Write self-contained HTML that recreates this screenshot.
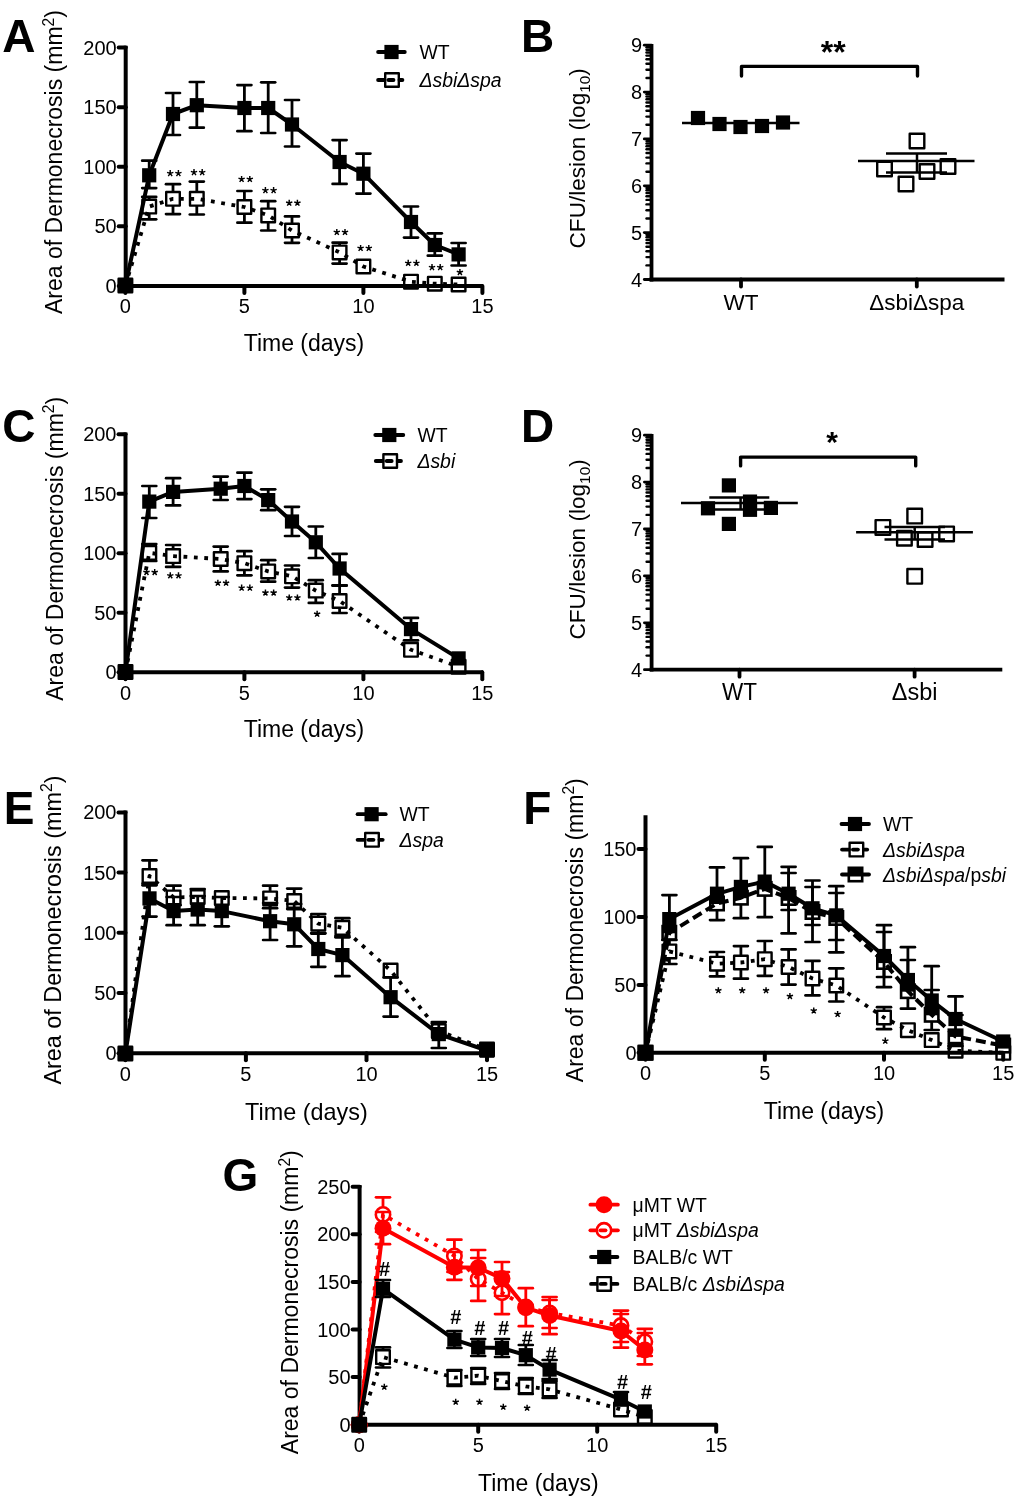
<!DOCTYPE html><html><head><meta charset="utf-8"><style>html,body{margin:0;padding:0;background:#fff;overflow:hidden}svg{display:block;will-change:transform}</style></head><body><svg width="1024" height="1509" viewBox="0 0 1024 1509" font-family='"Liberation Sans", sans-serif'>
<rect width="1024" height="1509" fill="#fff"/>
<text x="2.2" y="52.0" font-size="46" text-anchor="start" font-weight="bold" >A</text>
<text transform="translate(62.2,162.0) rotate(-90)" x="0" y="0" font-size="23" text-anchor="middle">Area of Dermonecrosis (mm<tspan font-size="15.6" dy="-8.3">2</tspan><tspan dy="8.3">)</tspan></text>
<line x1="125.7" y1="45.8" x2="125.7" y2="287.9" stroke="#000" stroke-width="4"/>
<line x1="123.7" y1="285.9" x2="483.0" y2="285.9" stroke="#000" stroke-width="4"/>
<line x1="118.7" y1="285.9" x2="125.7" y2="285.9" stroke="#000" stroke-width="4" stroke-linecap="round"/>
<text x="116.7" y="292.9" font-size="20" text-anchor="end" >0</text>
<line x1="118.7" y1="226.3" x2="125.7" y2="226.3" stroke="#000" stroke-width="4" stroke-linecap="round"/>
<text x="116.7" y="233.3" font-size="20" text-anchor="end" >50</text>
<line x1="118.7" y1="166.7" x2="125.7" y2="166.7" stroke="#000" stroke-width="4" stroke-linecap="round"/>
<text x="116.7" y="173.7" font-size="20" text-anchor="end" >100</text>
<line x1="118.7" y1="107.2" x2="125.7" y2="107.2" stroke="#000" stroke-width="4" stroke-linecap="round"/>
<text x="116.7" y="114.2" font-size="20" text-anchor="end" >150</text>
<line x1="118.7" y1="47.6" x2="125.7" y2="47.6" stroke="#000" stroke-width="4" stroke-linecap="round"/>
<text x="116.7" y="54.6" font-size="20" text-anchor="end" >200</text>
<line x1="125.4" y1="285.9" x2="125.4" y2="292.9" stroke="#000" stroke-width="4" stroke-linecap="round"/>
<text x="125.4" y="313.4" font-size="20" text-anchor="middle" >0</text>
<line x1="244.4" y1="285.9" x2="244.4" y2="292.9" stroke="#000" stroke-width="4" stroke-linecap="round"/>
<text x="244.4" y="313.4" font-size="20" text-anchor="middle" >5</text>
<line x1="363.4" y1="285.9" x2="363.4" y2="292.9" stroke="#000" stroke-width="4" stroke-linecap="round"/>
<text x="363.4" y="313.4" font-size="20" text-anchor="middle" >10</text>
<line x1="482.4" y1="285.9" x2="482.4" y2="292.9" stroke="#000" stroke-width="4" stroke-linecap="round"/>
<text x="482.4" y="313.4" font-size="20" text-anchor="middle" >15</text>
<text x="304.0" y="351.0" font-size="23" text-anchor="middle" >Time (days)</text>
<line x1="149.2" y1="196.9" x2="149.2" y2="200.1" stroke="#000" stroke-width="2.8"/>
<line x1="142.2" y1="196.9" x2="156.2" y2="196.9" stroke="#000" stroke-width="2.7" stroke-linecap="round"/>
<line x1="149.2" y1="213.1" x2="149.2" y2="219.3" stroke="#000" stroke-width="2.8"/>
<line x1="142.2" y1="219.3" x2="156.2" y2="219.3" stroke="#000" stroke-width="2.7" stroke-linecap="round"/>
<line x1="173.0" y1="184.2" x2="173.0" y2="192.3" stroke="#000" stroke-width="2.8"/>
<line x1="166.0" y1="184.2" x2="180.0" y2="184.2" stroke="#000" stroke-width="2.7" stroke-linecap="round"/>
<line x1="173.0" y1="205.3" x2="173.0" y2="214.1" stroke="#000" stroke-width="2.8"/>
<line x1="166.0" y1="214.1" x2="180.0" y2="214.1" stroke="#000" stroke-width="2.7" stroke-linecap="round"/>
<line x1="196.8" y1="181.6" x2="196.8" y2="192.3" stroke="#000" stroke-width="2.8"/>
<line x1="189.8" y1="181.6" x2="203.8" y2="181.6" stroke="#000" stroke-width="2.7" stroke-linecap="round"/>
<line x1="196.8" y1="205.3" x2="196.8" y2="214.5" stroke="#000" stroke-width="2.8"/>
<line x1="189.8" y1="214.5" x2="203.8" y2="214.5" stroke="#000" stroke-width="2.7" stroke-linecap="round"/>
<line x1="244.4" y1="191.0" x2="244.4" y2="200.5" stroke="#000" stroke-width="2.8"/>
<line x1="237.4" y1="191.0" x2="251.4" y2="191.0" stroke="#000" stroke-width="2.7" stroke-linecap="round"/>
<line x1="244.4" y1="213.5" x2="244.4" y2="222.7" stroke="#000" stroke-width="2.8"/>
<line x1="237.4" y1="222.7" x2="251.4" y2="222.7" stroke="#000" stroke-width="2.7" stroke-linecap="round"/>
<line x1="268.2" y1="201.2" x2="268.2" y2="208.9" stroke="#000" stroke-width="2.8"/>
<line x1="261.2" y1="201.2" x2="275.2" y2="201.2" stroke="#000" stroke-width="2.7" stroke-linecap="round"/>
<line x1="268.2" y1="221.9" x2="268.2" y2="230.5" stroke="#000" stroke-width="2.8"/>
<line x1="261.2" y1="230.5" x2="275.2" y2="230.5" stroke="#000" stroke-width="2.7" stroke-linecap="round"/>
<line x1="292.0" y1="216.4" x2="292.0" y2="224.0" stroke="#000" stroke-width="2.8"/>
<line x1="285.0" y1="216.4" x2="299.0" y2="216.4" stroke="#000" stroke-width="2.7" stroke-linecap="round"/>
<line x1="292.0" y1="237.0" x2="292.0" y2="242.8" stroke="#000" stroke-width="2.8"/>
<line x1="285.0" y1="242.8" x2="299.0" y2="242.8" stroke="#000" stroke-width="2.7" stroke-linecap="round"/>
<line x1="339.6" y1="242.7" x2="339.6" y2="245.9" stroke="#000" stroke-width="2.8"/>
<line x1="332.6" y1="242.7" x2="346.6" y2="242.7" stroke="#000" stroke-width="2.7" stroke-linecap="round"/>
<line x1="339.6" y1="258.9" x2="339.6" y2="263.6" stroke="#000" stroke-width="2.8"/>
<line x1="332.6" y1="263.6" x2="346.6" y2="263.6" stroke="#000" stroke-width="2.7" stroke-linecap="round"/>
<polyline points="125.4,285.5 149.2,206.6 173.0,198.8 196.8,198.8 244.4,207.0 268.2,215.4 292.0,230.5 339.6,252.4 363.4,266.5 411.0,281.7 434.8,283.7 458.6,284.5" fill="none" stroke="#000" stroke-width="3.8" stroke-linejoin="round" stroke-linecap="butt" stroke-dasharray="3.8 6.6"/>
<rect x="118.6" y="278.7" width="13.6" height="13.6" fill="none" stroke="#000" stroke-width="2.4" stroke-linejoin="round"/>
<rect x="142.4" y="199.8" width="13.6" height="13.6" fill="none" stroke="#000" stroke-width="2.4" stroke-linejoin="round"/>
<rect x="166.2" y="192.0" width="13.6" height="13.6" fill="none" stroke="#000" stroke-width="2.4" stroke-linejoin="round"/>
<rect x="190.0" y="192.0" width="13.6" height="13.6" fill="none" stroke="#000" stroke-width="2.4" stroke-linejoin="round"/>
<rect x="237.6" y="200.2" width="13.6" height="13.6" fill="none" stroke="#000" stroke-width="2.4" stroke-linejoin="round"/>
<rect x="261.4" y="208.6" width="13.6" height="13.6" fill="none" stroke="#000" stroke-width="2.4" stroke-linejoin="round"/>
<rect x="285.2" y="223.7" width="13.6" height="13.6" fill="none" stroke="#000" stroke-width="2.4" stroke-linejoin="round"/>
<rect x="332.8" y="245.6" width="13.6" height="13.6" fill="none" stroke="#000" stroke-width="2.4" stroke-linejoin="round"/>
<rect x="356.6" y="259.7" width="13.6" height="13.6" fill="none" stroke="#000" stroke-width="2.4" stroke-linejoin="round"/>
<rect x="404.2" y="274.9" width="13.6" height="13.6" fill="none" stroke="#000" stroke-width="2.4" stroke-linejoin="round"/>
<rect x="428.0" y="276.9" width="13.6" height="13.6" fill="none" stroke="#000" stroke-width="2.4" stroke-linejoin="round"/>
<rect x="451.8" y="277.7" width="13.6" height="13.6" fill="none" stroke="#000" stroke-width="2.4" stroke-linejoin="round"/>
<line x1="149.2" y1="160.7" x2="149.2" y2="168.8" stroke="#000" stroke-width="2.8"/>
<line x1="142.2" y1="160.7" x2="156.2" y2="160.7" stroke="#000" stroke-width="2.7" stroke-linecap="round"/>
<line x1="149.2" y1="181.8" x2="149.2" y2="188.1" stroke="#000" stroke-width="2.8"/>
<line x1="142.2" y1="188.1" x2="156.2" y2="188.1" stroke="#000" stroke-width="2.7" stroke-linecap="round"/>
<line x1="173.0" y1="93.0" x2="173.0" y2="107.5" stroke="#000" stroke-width="2.8"/>
<line x1="166.0" y1="93.0" x2="180.0" y2="93.0" stroke="#000" stroke-width="2.7" stroke-linecap="round"/>
<line x1="173.0" y1="120.5" x2="173.0" y2="135.0" stroke="#000" stroke-width="2.8"/>
<line x1="166.0" y1="135.0" x2="180.0" y2="135.0" stroke="#000" stroke-width="2.7" stroke-linecap="round"/>
<line x1="196.8" y1="82.0" x2="196.8" y2="98.7" stroke="#000" stroke-width="2.8"/>
<line x1="189.8" y1="82.0" x2="203.8" y2="82.0" stroke="#000" stroke-width="2.7" stroke-linecap="round"/>
<line x1="196.8" y1="111.7" x2="196.8" y2="127.7" stroke="#000" stroke-width="2.8"/>
<line x1="189.8" y1="127.7" x2="203.8" y2="127.7" stroke="#000" stroke-width="2.7" stroke-linecap="round"/>
<line x1="244.4" y1="85.1" x2="244.4" y2="101.5" stroke="#000" stroke-width="2.8"/>
<line x1="237.4" y1="85.1" x2="251.4" y2="85.1" stroke="#000" stroke-width="2.7" stroke-linecap="round"/>
<line x1="244.4" y1="114.5" x2="244.4" y2="131.2" stroke="#000" stroke-width="2.8"/>
<line x1="237.4" y1="131.2" x2="251.4" y2="131.2" stroke="#000" stroke-width="2.7" stroke-linecap="round"/>
<line x1="268.2" y1="82.3" x2="268.2" y2="101.5" stroke="#000" stroke-width="2.8"/>
<line x1="261.2" y1="82.3" x2="275.2" y2="82.3" stroke="#000" stroke-width="2.7" stroke-linecap="round"/>
<line x1="268.2" y1="114.5" x2="268.2" y2="133.0" stroke="#000" stroke-width="2.8"/>
<line x1="261.2" y1="133.0" x2="275.2" y2="133.0" stroke="#000" stroke-width="2.7" stroke-linecap="round"/>
<line x1="292.0" y1="100.0" x2="292.0" y2="118.0" stroke="#000" stroke-width="2.8"/>
<line x1="285.0" y1="100.0" x2="299.0" y2="100.0" stroke="#000" stroke-width="2.7" stroke-linecap="round"/>
<line x1="292.0" y1="131.0" x2="292.0" y2="146.5" stroke="#000" stroke-width="2.8"/>
<line x1="285.0" y1="146.5" x2="299.0" y2="146.5" stroke="#000" stroke-width="2.7" stroke-linecap="round"/>
<line x1="339.6" y1="140.1" x2="339.6" y2="155.5" stroke="#000" stroke-width="2.8"/>
<line x1="332.6" y1="140.1" x2="346.6" y2="140.1" stroke="#000" stroke-width="2.7" stroke-linecap="round"/>
<line x1="339.6" y1="168.5" x2="339.6" y2="183.9" stroke="#000" stroke-width="2.8"/>
<line x1="332.6" y1="183.9" x2="346.6" y2="183.9" stroke="#000" stroke-width="2.7" stroke-linecap="round"/>
<line x1="363.4" y1="153.6" x2="363.4" y2="167.2" stroke="#000" stroke-width="2.8"/>
<line x1="356.4" y1="153.6" x2="370.4" y2="153.6" stroke="#000" stroke-width="2.7" stroke-linecap="round"/>
<line x1="363.4" y1="180.2" x2="363.4" y2="193.6" stroke="#000" stroke-width="2.8"/>
<line x1="356.4" y1="193.6" x2="370.4" y2="193.6" stroke="#000" stroke-width="2.7" stroke-linecap="round"/>
<line x1="411.0" y1="206.5" x2="411.0" y2="215.5" stroke="#000" stroke-width="2.8"/>
<line x1="404.0" y1="206.5" x2="418.0" y2="206.5" stroke="#000" stroke-width="2.7" stroke-linecap="round"/>
<line x1="411.0" y1="228.5" x2="411.0" y2="237.6" stroke="#000" stroke-width="2.8"/>
<line x1="404.0" y1="237.6" x2="418.0" y2="237.6" stroke="#000" stroke-width="2.7" stroke-linecap="round"/>
<line x1="434.8" y1="233.3" x2="434.8" y2="238.5" stroke="#000" stroke-width="2.8"/>
<line x1="427.8" y1="233.3" x2="441.8" y2="233.3" stroke="#000" stroke-width="2.7" stroke-linecap="round"/>
<line x1="434.8" y1="251.5" x2="434.8" y2="255.7" stroke="#000" stroke-width="2.8"/>
<line x1="427.8" y1="255.7" x2="441.8" y2="255.7" stroke="#000" stroke-width="2.7" stroke-linecap="round"/>
<line x1="458.6" y1="243.0" x2="458.6" y2="247.9" stroke="#000" stroke-width="2.8"/>
<line x1="451.6" y1="243.0" x2="465.6" y2="243.0" stroke="#000" stroke-width="2.7" stroke-linecap="round"/>
<line x1="458.6" y1="260.9" x2="458.6" y2="265.5" stroke="#000" stroke-width="2.8"/>
<line x1="451.6" y1="265.5" x2="465.6" y2="265.5" stroke="#000" stroke-width="2.7" stroke-linecap="round"/>
<polyline points="125.4,285.5 149.2,175.3 173.0,114.0 196.8,105.2 244.4,108.0 268.2,108.0 292.0,124.5 339.6,162.0 363.4,173.7 411.0,222.0 434.8,245.0 458.6,254.4" fill="none" stroke="#000" stroke-width="4" stroke-linejoin="round" stroke-linecap="butt"/>
<rect x="118.3" y="278.4" width="14.2" height="14.2" fill="#000"/>
<rect x="142.1" y="168.2" width="14.2" height="14.2" fill="#000"/>
<rect x="165.9" y="106.9" width="14.2" height="14.2" fill="#000"/>
<rect x="189.7" y="98.1" width="14.2" height="14.2" fill="#000"/>
<rect x="237.3" y="100.9" width="14.2" height="14.2" fill="#000"/>
<rect x="261.1" y="100.9" width="14.2" height="14.2" fill="#000"/>
<rect x="284.9" y="117.4" width="14.2" height="14.2" fill="#000"/>
<rect x="332.5" y="154.9" width="14.2" height="14.2" fill="#000"/>
<rect x="356.3" y="166.6" width="14.2" height="14.2" fill="#000"/>
<rect x="403.9" y="214.9" width="14.2" height="14.2" fill="#000"/>
<rect x="427.7" y="237.9" width="14.2" height="14.2" fill="#000"/>
<rect x="451.5" y="247.3" width="14.2" height="14.2" fill="#000"/>
<path d="M170.20,173.40L170.20,170.10M170.20,173.40L173.34,172.38M170.20,173.40L172.14,176.07M170.20,173.40L168.26,176.07M170.20,173.40L167.06,172.38" stroke="#000" stroke-width="1.45" stroke-linecap="butt" fill="none"/>
<path d="M178.40,173.40L178.40,170.10M178.40,173.40L181.54,172.38M178.40,173.40L180.34,176.07M178.40,173.40L176.46,176.07M178.40,173.40L175.26,172.38" stroke="#000" stroke-width="1.45" stroke-linecap="butt" fill="none"/>
<path d="M194.00,172.40L194.00,169.10M194.00,172.40L197.14,171.38M194.00,172.40L195.94,175.07M194.00,172.40L192.06,175.07M194.00,172.40L190.86,171.38" stroke="#000" stroke-width="1.45" stroke-linecap="butt" fill="none"/>
<path d="M202.20,172.40L202.20,169.10M202.20,172.40L205.34,171.38M202.20,172.40L204.14,175.07M202.20,172.40L200.26,175.07M202.20,172.40L199.06,171.38" stroke="#000" stroke-width="1.45" stroke-linecap="butt" fill="none"/>
<path d="M241.60,179.20L241.60,175.90M241.60,179.20L244.74,178.18M241.60,179.20L243.54,181.87M241.60,179.20L239.66,181.87M241.60,179.20L238.46,178.18" stroke="#000" stroke-width="1.45" stroke-linecap="butt" fill="none"/>
<path d="M249.80,179.20L249.80,175.90M249.80,179.20L252.94,178.18M249.80,179.20L251.74,181.87M249.80,179.20L247.86,181.87M249.80,179.20L246.66,178.18" stroke="#000" stroke-width="1.45" stroke-linecap="butt" fill="none"/>
<path d="M265.40,190.40L265.40,187.10M265.40,190.40L268.54,189.38M265.40,190.40L267.34,193.07M265.40,190.40L263.46,193.07M265.40,190.40L262.26,189.38" stroke="#000" stroke-width="1.45" stroke-linecap="butt" fill="none"/>
<path d="M273.60,190.40L273.60,187.10M273.60,190.40L276.74,189.38M273.60,190.40L275.54,193.07M273.60,190.40L271.66,193.07M273.60,190.40L270.46,189.38" stroke="#000" stroke-width="1.45" stroke-linecap="butt" fill="none"/>
<path d="M289.20,203.00L289.20,199.70M289.20,203.00L292.34,201.98M289.20,203.00L291.14,205.67M289.20,203.00L287.26,205.67M289.20,203.00L286.06,201.98" stroke="#000" stroke-width="1.45" stroke-linecap="butt" fill="none"/>
<path d="M297.40,203.00L297.40,199.70M297.40,203.00L300.54,201.98M297.40,203.00L299.34,205.67M297.40,203.00L295.46,205.67M297.40,203.00L294.26,201.98" stroke="#000" stroke-width="1.45" stroke-linecap="butt" fill="none"/>
<path d="M336.80,232.20L336.80,228.90M336.80,232.20L339.94,231.18M336.80,232.20L338.74,234.87M336.80,232.20L334.86,234.87M336.80,232.20L333.66,231.18" stroke="#000" stroke-width="1.45" stroke-linecap="butt" fill="none"/>
<path d="M345.00,232.20L345.00,228.90M345.00,232.20L348.14,231.18M345.00,232.20L346.94,234.87M345.00,232.20L343.06,234.87M345.00,232.20L341.86,231.18" stroke="#000" stroke-width="1.45" stroke-linecap="butt" fill="none"/>
<path d="M360.60,248.20L360.60,244.90M360.60,248.20L363.74,247.18M360.60,248.20L362.54,250.87M360.60,248.20L358.66,250.87M360.60,248.20L357.46,247.18" stroke="#000" stroke-width="1.45" stroke-linecap="butt" fill="none"/>
<path d="M368.80,248.20L368.80,244.90M368.80,248.20L371.94,247.18M368.80,248.20L370.74,250.87M368.80,248.20L366.86,250.87M368.80,248.20L365.66,247.18" stroke="#000" stroke-width="1.45" stroke-linecap="butt" fill="none"/>
<path d="M408.20,263.10L408.20,259.80M408.20,263.10L411.34,262.08M408.20,263.10L410.14,265.77M408.20,263.10L406.26,265.77M408.20,263.10L405.06,262.08" stroke="#000" stroke-width="1.45" stroke-linecap="butt" fill="none"/>
<path d="M416.40,263.10L416.40,259.80M416.40,263.10L419.54,262.08M416.40,263.10L418.34,265.77M416.40,263.10L414.46,265.77M416.40,263.10L413.26,262.08" stroke="#000" stroke-width="1.45" stroke-linecap="butt" fill="none"/>
<path d="M432.00,267.40L432.00,264.10M432.00,267.40L435.14,266.38M432.00,267.40L433.94,270.07M432.00,267.40L430.06,270.07M432.00,267.40L428.86,266.38" stroke="#000" stroke-width="1.45" stroke-linecap="butt" fill="none"/>
<path d="M440.20,267.40L440.20,264.10M440.20,267.40L443.34,266.38M440.20,267.40L442.14,270.07M440.20,267.40L438.26,270.07M440.20,267.40L437.06,266.38" stroke="#000" stroke-width="1.45" stroke-linecap="butt" fill="none"/>
<path d="M459.90,272.30L459.90,269.00M459.90,272.30L463.04,271.28M459.90,272.30L461.84,274.97M459.90,272.30L457.96,274.97M459.90,272.30L456.76,271.28" stroke="#000" stroke-width="1.45" stroke-linecap="butt" fill="none"/>
<line x1="378.1" y1="52.0" x2="404.8" y2="52.0" stroke="#000" stroke-width="3.8" stroke-linecap="round"/>
<rect x="384.4" y="44.9" width="14.2" height="14.2" fill="#000"/>
<text x="419.5" y="59.0" font-size="19.4">WT</text>
<line x1="378.1" y1="80.0" x2="384.5" y2="80.0" stroke="#000" stroke-width="3.8" stroke-linecap="round"/>
<line x1="388.5" y1="80.0" x2="393.5" y2="80.0" stroke="#000" stroke-width="3.8" stroke-linecap="round"/>
<line x1="399.5" y1="80.0" x2="402.4" y2="80.0" stroke="#000" stroke-width="3.8" stroke-linecap="round"/>
<rect x="385.2" y="73.2" width="13.6" height="13.6" fill="none" stroke="#000" stroke-width="2.4" stroke-linejoin="round"/>
<text x="419.5" y="87.0" font-size="19.4"><tspan font-style="italic">ΔsbiΔspa</tspan></text>
<text x="521.0" y="51.9" font-size="46" text-anchor="start" font-weight="bold" >B</text>
<line x1="651.5" y1="43.9" x2="651.5" y2="281.4" stroke="#000" stroke-width="3.8"/>
<line x1="649.6" y1="279.5" x2="1004.5" y2="279.5" stroke="#000" stroke-width="3.8"/>
<line x1="644.3" y1="279.5" x2="651.5" y2="279.5" stroke="#000" stroke-width="2.8" stroke-linecap="round"/>
<text x="642.0" y="286.5" font-size="20" text-anchor="end" >4</text>
<line x1="646.5" y1="265.4" x2="651.5" y2="265.4" stroke="#000" stroke-width="2.4" stroke-linecap="round"/>
<line x1="646.5" y1="257.1" x2="651.5" y2="257.1" stroke="#000" stroke-width="2.4" stroke-linecap="round"/>
<line x1="646.5" y1="251.3" x2="651.5" y2="251.3" stroke="#000" stroke-width="2.4" stroke-linecap="round"/>
<line x1="646.5" y1="246.7" x2="651.5" y2="246.7" stroke="#000" stroke-width="2.4" stroke-linecap="round"/>
<line x1="646.5" y1="243.0" x2="651.5" y2="243.0" stroke="#000" stroke-width="2.4" stroke-linecap="round"/>
<line x1="646.5" y1="239.9" x2="651.5" y2="239.9" stroke="#000" stroke-width="2.4" stroke-linecap="round"/>
<line x1="646.5" y1="237.2" x2="651.5" y2="237.2" stroke="#000" stroke-width="2.4" stroke-linecap="round"/>
<line x1="646.5" y1="234.8" x2="651.5" y2="234.8" stroke="#000" stroke-width="2.4" stroke-linecap="round"/>
<line x1="644.3" y1="232.6" x2="651.5" y2="232.6" stroke="#000" stroke-width="2.8" stroke-linecap="round"/>
<text x="642.0" y="239.6" font-size="20" text-anchor="end" >5</text>
<line x1="646.5" y1="218.5" x2="651.5" y2="218.5" stroke="#000" stroke-width="2.4" stroke-linecap="round"/>
<line x1="646.5" y1="210.3" x2="651.5" y2="210.3" stroke="#000" stroke-width="2.4" stroke-linecap="round"/>
<line x1="646.5" y1="204.4" x2="651.5" y2="204.4" stroke="#000" stroke-width="2.4" stroke-linecap="round"/>
<line x1="646.5" y1="199.9" x2="651.5" y2="199.9" stroke="#000" stroke-width="2.4" stroke-linecap="round"/>
<line x1="646.5" y1="196.2" x2="651.5" y2="196.2" stroke="#000" stroke-width="2.4" stroke-linecap="round"/>
<line x1="646.5" y1="193.0" x2="651.5" y2="193.0" stroke="#000" stroke-width="2.4" stroke-linecap="round"/>
<line x1="646.5" y1="190.3" x2="651.5" y2="190.3" stroke="#000" stroke-width="2.4" stroke-linecap="round"/>
<line x1="646.5" y1="187.9" x2="651.5" y2="187.9" stroke="#000" stroke-width="2.4" stroke-linecap="round"/>
<line x1="644.3" y1="185.8" x2="651.5" y2="185.8" stroke="#000" stroke-width="2.8" stroke-linecap="round"/>
<text x="642.0" y="192.8" font-size="20" text-anchor="end" >6</text>
<line x1="646.5" y1="171.7" x2="651.5" y2="171.7" stroke="#000" stroke-width="2.4" stroke-linecap="round"/>
<line x1="646.5" y1="163.4" x2="651.5" y2="163.4" stroke="#000" stroke-width="2.4" stroke-linecap="round"/>
<line x1="646.5" y1="157.6" x2="651.5" y2="157.6" stroke="#000" stroke-width="2.4" stroke-linecap="round"/>
<line x1="646.5" y1="153.0" x2="651.5" y2="153.0" stroke="#000" stroke-width="2.4" stroke-linecap="round"/>
<line x1="646.5" y1="149.3" x2="651.5" y2="149.3" stroke="#000" stroke-width="2.4" stroke-linecap="round"/>
<line x1="646.5" y1="146.2" x2="651.5" y2="146.2" stroke="#000" stroke-width="2.4" stroke-linecap="round"/>
<line x1="646.5" y1="143.5" x2="651.5" y2="143.5" stroke="#000" stroke-width="2.4" stroke-linecap="round"/>
<line x1="646.5" y1="141.1" x2="651.5" y2="141.1" stroke="#000" stroke-width="2.4" stroke-linecap="round"/>
<line x1="644.3" y1="138.9" x2="651.5" y2="138.9" stroke="#000" stroke-width="2.8" stroke-linecap="round"/>
<text x="642.0" y="145.9" font-size="20" text-anchor="end" >7</text>
<line x1="646.5" y1="124.8" x2="651.5" y2="124.8" stroke="#000" stroke-width="2.4" stroke-linecap="round"/>
<line x1="646.5" y1="116.6" x2="651.5" y2="116.6" stroke="#000" stroke-width="2.4" stroke-linecap="round"/>
<line x1="646.5" y1="110.7" x2="651.5" y2="110.7" stroke="#000" stroke-width="2.4" stroke-linecap="round"/>
<line x1="646.5" y1="106.2" x2="651.5" y2="106.2" stroke="#000" stroke-width="2.4" stroke-linecap="round"/>
<line x1="646.5" y1="102.5" x2="651.5" y2="102.5" stroke="#000" stroke-width="2.4" stroke-linecap="round"/>
<line x1="646.5" y1="99.3" x2="651.5" y2="99.3" stroke="#000" stroke-width="2.4" stroke-linecap="round"/>
<line x1="646.5" y1="96.6" x2="651.5" y2="96.6" stroke="#000" stroke-width="2.4" stroke-linecap="round"/>
<line x1="646.5" y1="94.2" x2="651.5" y2="94.2" stroke="#000" stroke-width="2.4" stroke-linecap="round"/>
<line x1="644.3" y1="92.1" x2="651.5" y2="92.1" stroke="#000" stroke-width="2.8" stroke-linecap="round"/>
<text x="642.0" y="99.1" font-size="20" text-anchor="end" >8</text>
<line x1="646.5" y1="78.0" x2="651.5" y2="78.0" stroke="#000" stroke-width="2.4" stroke-linecap="round"/>
<line x1="646.5" y1="69.7" x2="651.5" y2="69.7" stroke="#000" stroke-width="2.4" stroke-linecap="round"/>
<line x1="646.5" y1="63.8" x2="651.5" y2="63.8" stroke="#000" stroke-width="2.4" stroke-linecap="round"/>
<line x1="646.5" y1="59.3" x2="651.5" y2="59.3" stroke="#000" stroke-width="2.4" stroke-linecap="round"/>
<line x1="646.5" y1="55.6" x2="651.5" y2="55.6" stroke="#000" stroke-width="2.4" stroke-linecap="round"/>
<line x1="646.5" y1="52.5" x2="651.5" y2="52.5" stroke="#000" stroke-width="2.4" stroke-linecap="round"/>
<line x1="646.5" y1="49.7" x2="651.5" y2="49.7" stroke="#000" stroke-width="2.4" stroke-linecap="round"/>
<line x1="646.5" y1="47.3" x2="651.5" y2="47.3" stroke="#000" stroke-width="2.4" stroke-linecap="round"/>
<line x1="644.3" y1="45.2" x2="651.5" y2="45.2" stroke="#000" stroke-width="2.8" stroke-linecap="round"/>
<text x="642.0" y="52.2" font-size="20" text-anchor="end" >9</text>
<line x1="741.0" y1="279.5" x2="741.0" y2="286.5" stroke="#000" stroke-width="3.8" stroke-linecap="round"/>
<text x="741.0" y="310.0" font-size="22.5" text-anchor="middle" >WT</text>
<line x1="916.8" y1="279.5" x2="916.8" y2="286.5" stroke="#000" stroke-width="3.8" stroke-linecap="round"/>
<text x="916.8" y="310.0" font-size="22.5" text-anchor="middle" >ΔsbiΔspa</text>
<text transform="translate(585.2,158.3) rotate(-90)" x="0" y="0" font-size="22.6" text-anchor="middle">CFU/lesion (log<tspan font-size="15.4" dy="4.5">10</tspan><tspan dy="-4.5">)</tspan></text>
<polyline points="741.5,76 741.5,66.4 917.5,66.4 917.5,76" fill="none" stroke="#000" stroke-width="3.4" stroke-linejoin="round" stroke-linecap="round"/>
<text x="833.2" y="62.8" font-size="32" text-anchor="middle" font-weight="bold" >**</text>
<rect x="690.9" y="110.9" width="14.2" height="14.2" fill="#000"/>
<rect x="712.4" y="116.9" width="14.2" height="14.2" fill="#000"/>
<rect x="733.4" y="119.9" width="14.2" height="14.2" fill="#000"/>
<rect x="754.9" y="118.9" width="14.2" height="14.2" fill="#000"/>
<rect x="775.9" y="115.4" width="14.2" height="14.2" fill="#000"/>
<line x1="682.0" y1="123.0" x2="799.5" y2="123.0" stroke="#000" stroke-width="2.5"/>
<line x1="858.0" y1="161.0" x2="974.5" y2="161.0" stroke="#000" stroke-width="2.5"/>
<line x1="886.0" y1="153.5" x2="947.0" y2="153.5" stroke="#000" stroke-width="2.5"/>
<line x1="886.0" y1="172.5" x2="947.0" y2="172.5" stroke="#000" stroke-width="2.5"/>
<line x1="917.0" y1="153.5" x2="917.0" y2="172.5" stroke="#000" stroke-width="2.5"/>
<rect x="909.7" y="133.7" width="14.6" height="14.6" fill="none" stroke="#000" stroke-width="2.4" stroke-linejoin="round"/>
<rect x="877.2" y="161.7" width="14.6" height="14.6" fill="none" stroke="#000" stroke-width="2.4" stroke-linejoin="round"/>
<rect x="898.7" y="176.7" width="14.6" height="14.6" fill="none" stroke="#000" stroke-width="2.4" stroke-linejoin="round"/>
<rect x="919.7" y="164.2" width="14.6" height="14.6" fill="none" stroke="#000" stroke-width="2.4" stroke-linejoin="round"/>
<rect x="940.7" y="159.2" width="14.6" height="14.6" fill="none" stroke="#000" stroke-width="2.4" stroke-linejoin="round"/>
<text x="2.3" y="442.0" font-size="46" text-anchor="start" font-weight="bold" >C</text>
<text transform="translate(62.5,548.8) rotate(-90)" x="0" y="0" font-size="23" text-anchor="middle">Area of Dermonecrosis (mm<tspan font-size="15.6" dy="-8.3">2</tspan><tspan dy="8.3">)</tspan></text>
<line x1="125.5" y1="432.6" x2="125.5" y2="674.3" stroke="#000" stroke-width="4"/>
<line x1="123.5" y1="672.3" x2="483.0" y2="672.3" stroke="#000" stroke-width="4"/>
<line x1="118.5" y1="672.3" x2="125.5" y2="672.3" stroke="#000" stroke-width="4" stroke-linecap="round"/>
<text x="116.5" y="679.3" font-size="20" text-anchor="end" >0</text>
<line x1="118.5" y1="612.8" x2="125.5" y2="612.8" stroke="#000" stroke-width="4" stroke-linecap="round"/>
<text x="116.5" y="619.8" font-size="20" text-anchor="end" >50</text>
<line x1="118.5" y1="553.2" x2="125.5" y2="553.2" stroke="#000" stroke-width="4" stroke-linecap="round"/>
<text x="116.5" y="560.2" font-size="20" text-anchor="end" >100</text>
<line x1="118.5" y1="493.7" x2="125.5" y2="493.7" stroke="#000" stroke-width="4" stroke-linecap="round"/>
<text x="116.5" y="500.7" font-size="20" text-anchor="end" >150</text>
<line x1="118.5" y1="434.2" x2="125.5" y2="434.2" stroke="#000" stroke-width="4" stroke-linecap="round"/>
<text x="116.5" y="441.2" font-size="20" text-anchor="end" >200</text>
<line x1="125.5" y1="672.3" x2="125.5" y2="679.3" stroke="#000" stroke-width="4" stroke-linecap="round"/>
<text x="125.5" y="699.8" font-size="20" text-anchor="middle" >0</text>
<line x1="244.4" y1="672.3" x2="244.4" y2="679.3" stroke="#000" stroke-width="4" stroke-linecap="round"/>
<text x="244.4" y="699.8" font-size="20" text-anchor="middle" >5</text>
<line x1="363.4" y1="672.3" x2="363.4" y2="679.3" stroke="#000" stroke-width="4" stroke-linecap="round"/>
<text x="363.4" y="699.8" font-size="20" text-anchor="middle" >10</text>
<line x1="482.3" y1="672.3" x2="482.3" y2="679.3" stroke="#000" stroke-width="4" stroke-linecap="round"/>
<text x="482.3" y="699.8" font-size="20" text-anchor="middle" >15</text>
<text x="304.0" y="737.3" font-size="23" text-anchor="middle" >Time (days)</text>
<line x1="149.3" y1="544.0" x2="149.3" y2="546.3" stroke="#000" stroke-width="2.8"/>
<line x1="142.3" y1="544.0" x2="156.3" y2="544.0" stroke="#000" stroke-width="2.7" stroke-linecap="round"/>
<line x1="149.3" y1="559.3" x2="149.3" y2="561.0" stroke="#000" stroke-width="2.8"/>
<line x1="142.3" y1="561.0" x2="156.3" y2="561.0" stroke="#000" stroke-width="2.7" stroke-linecap="round"/>
<line x1="173.1" y1="545.0" x2="173.1" y2="549.6" stroke="#000" stroke-width="2.8"/>
<line x1="166.1" y1="545.0" x2="180.1" y2="545.0" stroke="#000" stroke-width="2.7" stroke-linecap="round"/>
<line x1="173.1" y1="562.6" x2="173.1" y2="566.9" stroke="#000" stroke-width="2.8"/>
<line x1="166.1" y1="566.9" x2="180.1" y2="566.9" stroke="#000" stroke-width="2.7" stroke-linecap="round"/>
<line x1="220.7" y1="546.6" x2="220.7" y2="552.5" stroke="#000" stroke-width="2.8"/>
<line x1="213.7" y1="546.6" x2="227.7" y2="546.6" stroke="#000" stroke-width="2.7" stroke-linecap="round"/>
<line x1="220.7" y1="565.5" x2="220.7" y2="571.4" stroke="#000" stroke-width="2.8"/>
<line x1="213.7" y1="571.4" x2="227.7" y2="571.4" stroke="#000" stroke-width="2.7" stroke-linecap="round"/>
<line x1="244.4" y1="551.2" x2="244.4" y2="556.7" stroke="#000" stroke-width="2.8"/>
<line x1="237.4" y1="551.2" x2="251.4" y2="551.2" stroke="#000" stroke-width="2.7" stroke-linecap="round"/>
<line x1="244.4" y1="569.7" x2="244.4" y2="575.3" stroke="#000" stroke-width="2.8"/>
<line x1="237.4" y1="575.3" x2="251.4" y2="575.3" stroke="#000" stroke-width="2.7" stroke-linecap="round"/>
<line x1="268.2" y1="560.2" x2="268.2" y2="564.9" stroke="#000" stroke-width="2.8"/>
<line x1="261.2" y1="560.2" x2="275.2" y2="560.2" stroke="#000" stroke-width="2.7" stroke-linecap="round"/>
<line x1="268.2" y1="577.9" x2="268.2" y2="581.7" stroke="#000" stroke-width="2.8"/>
<line x1="261.2" y1="581.7" x2="275.2" y2="581.7" stroke="#000" stroke-width="2.7" stroke-linecap="round"/>
<line x1="292.0" y1="565.5" x2="292.0" y2="569.8" stroke="#000" stroke-width="2.8"/>
<line x1="285.0" y1="565.5" x2="299.0" y2="565.5" stroke="#000" stroke-width="2.7" stroke-linecap="round"/>
<line x1="292.0" y1="582.8" x2="292.0" y2="587.6" stroke="#000" stroke-width="2.8"/>
<line x1="285.0" y1="587.6" x2="299.0" y2="587.6" stroke="#000" stroke-width="2.7" stroke-linecap="round"/>
<line x1="315.8" y1="580.2" x2="315.8" y2="584.1" stroke="#000" stroke-width="2.8"/>
<line x1="308.8" y1="580.2" x2="322.8" y2="580.2" stroke="#000" stroke-width="2.7" stroke-linecap="round"/>
<line x1="315.8" y1="597.1" x2="315.8" y2="602.9" stroke="#000" stroke-width="2.8"/>
<line x1="308.8" y1="602.9" x2="322.8" y2="602.9" stroke="#000" stroke-width="2.7" stroke-linecap="round"/>
<line x1="339.6" y1="585.3" x2="339.6" y2="594.5" stroke="#000" stroke-width="2.8"/>
<line x1="332.6" y1="585.3" x2="346.6" y2="585.3" stroke="#000" stroke-width="2.7" stroke-linecap="round"/>
<line x1="339.6" y1="607.5" x2="339.6" y2="613.0" stroke="#000" stroke-width="2.8"/>
<line x1="332.6" y1="613.0" x2="346.6" y2="613.0" stroke="#000" stroke-width="2.7" stroke-linecap="round"/>
<polyline points="125.5,672.0 149.3,552.8 173.1,556.1 220.7,559.0 244.4,563.2 268.2,571.4 292.0,576.2 315.8,590.6 339.6,601.0 411.0,649.8 458.6,666.8" fill="none" stroke="#000" stroke-width="3.8" stroke-linejoin="round" stroke-linecap="butt" stroke-dasharray="3.8 6.6"/>
<rect x="118.7" y="665.2" width="13.6" height="13.6" fill="none" stroke="#000" stroke-width="2.4" stroke-linejoin="round"/>
<rect x="142.5" y="546.0" width="13.6" height="13.6" fill="none" stroke="#000" stroke-width="2.4" stroke-linejoin="round"/>
<rect x="166.3" y="549.3" width="13.6" height="13.6" fill="none" stroke="#000" stroke-width="2.4" stroke-linejoin="round"/>
<rect x="213.9" y="552.2" width="13.6" height="13.6" fill="none" stroke="#000" stroke-width="2.4" stroke-linejoin="round"/>
<rect x="237.6" y="556.4" width="13.6" height="13.6" fill="none" stroke="#000" stroke-width="2.4" stroke-linejoin="round"/>
<rect x="261.4" y="564.6" width="13.6" height="13.6" fill="none" stroke="#000" stroke-width="2.4" stroke-linejoin="round"/>
<rect x="285.2" y="569.5" width="13.6" height="13.6" fill="none" stroke="#000" stroke-width="2.4" stroke-linejoin="round"/>
<rect x="309.0" y="583.8" width="13.6" height="13.6" fill="none" stroke="#000" stroke-width="2.4" stroke-linejoin="round"/>
<rect x="332.8" y="594.2" width="13.6" height="13.6" fill="none" stroke="#000" stroke-width="2.4" stroke-linejoin="round"/>
<rect x="404.2" y="643.0" width="13.6" height="13.6" fill="none" stroke="#000" stroke-width="2.4" stroke-linejoin="round"/>
<rect x="451.8" y="660.0" width="13.6" height="13.6" fill="none" stroke="#000" stroke-width="2.4" stroke-linejoin="round"/>
<line x1="149.3" y1="486.0" x2="149.3" y2="495.1" stroke="#000" stroke-width="2.8"/>
<line x1="142.3" y1="486.0" x2="156.3" y2="486.0" stroke="#000" stroke-width="2.7" stroke-linecap="round"/>
<line x1="149.3" y1="508.1" x2="149.3" y2="518.0" stroke="#000" stroke-width="2.8"/>
<line x1="142.3" y1="518.0" x2="156.3" y2="518.0" stroke="#000" stroke-width="2.7" stroke-linecap="round"/>
<line x1="173.1" y1="478.2" x2="173.1" y2="485.4" stroke="#000" stroke-width="2.8"/>
<line x1="166.1" y1="478.2" x2="180.1" y2="478.2" stroke="#000" stroke-width="2.7" stroke-linecap="round"/>
<line x1="173.1" y1="498.4" x2="173.1" y2="505.4" stroke="#000" stroke-width="2.8"/>
<line x1="166.1" y1="505.4" x2="180.1" y2="505.4" stroke="#000" stroke-width="2.7" stroke-linecap="round"/>
<line x1="220.7" y1="476.6" x2="220.7" y2="482.2" stroke="#000" stroke-width="2.8"/>
<line x1="213.7" y1="476.6" x2="227.7" y2="476.6" stroke="#000" stroke-width="2.7" stroke-linecap="round"/>
<line x1="220.7" y1="495.2" x2="220.7" y2="500.0" stroke="#000" stroke-width="2.8"/>
<line x1="213.7" y1="500.0" x2="227.7" y2="500.0" stroke="#000" stroke-width="2.7" stroke-linecap="round"/>
<line x1="244.4" y1="472.7" x2="244.4" y2="479.5" stroke="#000" stroke-width="2.8"/>
<line x1="237.4" y1="472.7" x2="251.4" y2="472.7" stroke="#000" stroke-width="2.7" stroke-linecap="round"/>
<line x1="244.4" y1="492.5" x2="244.4" y2="499.1" stroke="#000" stroke-width="2.8"/>
<line x1="237.4" y1="499.1" x2="251.4" y2="499.1" stroke="#000" stroke-width="2.7" stroke-linecap="round"/>
<line x1="268.2" y1="489.3" x2="268.2" y2="493.6" stroke="#000" stroke-width="2.8"/>
<line x1="261.2" y1="489.3" x2="275.2" y2="489.3" stroke="#000" stroke-width="2.7" stroke-linecap="round"/>
<line x1="268.2" y1="506.6" x2="268.2" y2="510.2" stroke="#000" stroke-width="2.8"/>
<line x1="261.2" y1="510.2" x2="275.2" y2="510.2" stroke="#000" stroke-width="2.7" stroke-linecap="round"/>
<line x1="292.0" y1="506.8" x2="292.0" y2="515.0" stroke="#000" stroke-width="2.8"/>
<line x1="285.0" y1="506.8" x2="299.0" y2="506.8" stroke="#000" stroke-width="2.7" stroke-linecap="round"/>
<line x1="292.0" y1="528.0" x2="292.0" y2="536.0" stroke="#000" stroke-width="2.8"/>
<line x1="285.0" y1="536.0" x2="299.0" y2="536.0" stroke="#000" stroke-width="2.7" stroke-linecap="round"/>
<line x1="315.8" y1="526.5" x2="315.8" y2="535.8" stroke="#000" stroke-width="2.8"/>
<line x1="308.8" y1="526.5" x2="322.8" y2="526.5" stroke="#000" stroke-width="2.7" stroke-linecap="round"/>
<line x1="315.8" y1="548.8" x2="315.8" y2="558.0" stroke="#000" stroke-width="2.8"/>
<line x1="308.8" y1="558.0" x2="322.8" y2="558.0" stroke="#000" stroke-width="2.7" stroke-linecap="round"/>
<line x1="339.6" y1="553.9" x2="339.6" y2="562.0" stroke="#000" stroke-width="2.8"/>
<line x1="332.6" y1="553.9" x2="346.6" y2="553.9" stroke="#000" stroke-width="2.7" stroke-linecap="round"/>
<line x1="339.6" y1="575.0" x2="339.6" y2="585.7" stroke="#000" stroke-width="2.8"/>
<line x1="332.6" y1="585.7" x2="346.6" y2="585.7" stroke="#000" stroke-width="2.7" stroke-linecap="round"/>
<line x1="411.0" y1="617.9" x2="411.0" y2="622.6" stroke="#000" stroke-width="2.8"/>
<line x1="404.0" y1="617.9" x2="418.0" y2="617.9" stroke="#000" stroke-width="2.7" stroke-linecap="round"/>
<line x1="411.0" y1="635.6" x2="411.0" y2="640.4" stroke="#000" stroke-width="2.8"/>
<line x1="404.0" y1="640.4" x2="418.0" y2="640.4" stroke="#000" stroke-width="2.7" stroke-linecap="round"/>
<polyline points="125.5,672.0 149.3,501.6 173.1,491.9 220.7,488.8 244.4,486.0 268.2,500.1 292.0,521.5 315.8,542.3 339.6,568.5 411.0,629.1 458.6,658.4" fill="none" stroke="#000" stroke-width="4" stroke-linejoin="round" stroke-linecap="butt"/>
<rect x="118.4" y="664.9" width="14.2" height="14.2" fill="#000"/>
<rect x="142.2" y="494.5" width="14.2" height="14.2" fill="#000"/>
<rect x="166.0" y="484.8" width="14.2" height="14.2" fill="#000"/>
<rect x="213.6" y="481.6" width="14.2" height="14.2" fill="#000"/>
<rect x="237.3" y="478.9" width="14.2" height="14.2" fill="#000"/>
<rect x="261.1" y="493.0" width="14.2" height="14.2" fill="#000"/>
<rect x="284.9" y="514.4" width="14.2" height="14.2" fill="#000"/>
<rect x="308.7" y="535.2" width="14.2" height="14.2" fill="#000"/>
<rect x="332.5" y="561.4" width="14.2" height="14.2" fill="#000"/>
<rect x="403.9" y="622.0" width="14.2" height="14.2" fill="#000"/>
<rect x="451.5" y="651.3" width="14.2" height="14.2" fill="#000"/>
<path d="M146.49,572.30L146.49,569.00M146.49,572.30L149.63,571.28M146.49,572.30L148.43,574.97M146.49,572.30L144.55,574.97M146.49,572.30L143.35,571.28" stroke="#000" stroke-width="1.45" stroke-linecap="butt" fill="none"/>
<path d="M154.69,572.30L154.69,569.00M154.69,572.30L157.83,571.28M154.69,572.30L156.63,574.97M154.69,572.30L152.75,574.97M154.69,572.30L151.55,571.28" stroke="#000" stroke-width="1.45" stroke-linecap="butt" fill="none"/>
<path d="M170.28,575.60L170.28,572.30M170.28,575.60L173.42,574.58M170.28,575.60L172.22,578.27M170.28,575.60L168.34,578.27M170.28,575.60L167.14,574.58" stroke="#000" stroke-width="1.45" stroke-linecap="butt" fill="none"/>
<path d="M178.48,575.60L178.48,572.30M178.48,575.60L181.62,574.58M178.48,575.60L180.42,578.27M178.48,575.60L176.54,578.27M178.48,575.60L175.34,574.58" stroke="#000" stroke-width="1.45" stroke-linecap="butt" fill="none"/>
<path d="M217.86,583.00L217.86,579.70M217.86,583.00L221.00,581.98M217.86,583.00L219.80,585.67M217.86,583.00L215.92,585.67M217.86,583.00L214.72,581.98" stroke="#000" stroke-width="1.45" stroke-linecap="butt" fill="none"/>
<path d="M226.06,583.00L226.06,579.70M226.06,583.00L229.20,581.98M226.06,583.00L228.00,585.67M226.06,583.00L224.12,585.67M226.06,583.00L222.92,581.98" stroke="#000" stroke-width="1.45" stroke-linecap="butt" fill="none"/>
<path d="M241.65,587.90L241.65,584.60M241.65,587.90L244.79,586.88M241.65,587.90L243.59,590.57M241.65,587.90L239.71,590.57M241.65,587.90L238.51,586.88" stroke="#000" stroke-width="1.45" stroke-linecap="butt" fill="none"/>
<path d="M249.85,587.90L249.85,584.60M249.85,587.90L252.99,586.88M249.85,587.90L251.79,590.57M249.85,587.90L247.91,590.57M249.85,587.90L246.71,586.88" stroke="#000" stroke-width="1.45" stroke-linecap="butt" fill="none"/>
<path d="M265.44,592.80L265.44,589.50M265.44,592.80L268.58,591.78M265.44,592.80L267.38,595.47M265.44,592.80L263.50,595.47M265.44,592.80L262.30,591.78" stroke="#000" stroke-width="1.45" stroke-linecap="butt" fill="none"/>
<path d="M273.64,592.80L273.64,589.50M273.64,592.80L276.78,591.78M273.64,592.80L275.58,595.47M273.64,592.80L271.70,595.47M273.64,592.80L270.50,591.78" stroke="#000" stroke-width="1.45" stroke-linecap="butt" fill="none"/>
<path d="M289.23,597.70L289.23,594.40M289.23,597.70L292.37,596.68M289.23,597.70L291.17,600.37M289.23,597.70L287.29,600.37M289.23,597.70L286.09,596.68" stroke="#000" stroke-width="1.45" stroke-linecap="butt" fill="none"/>
<path d="M297.43,597.70L297.43,594.40M297.43,597.70L300.57,596.68M297.43,597.70L299.37,600.37M297.43,597.70L295.49,600.37M297.43,597.70L294.29,596.68" stroke="#000" stroke-width="1.45" stroke-linecap="butt" fill="none"/>
<path d="M317.12,614.00L317.12,610.70M317.12,614.00L320.26,612.98M317.12,614.00L319.06,616.67M317.12,614.00L315.18,616.67M317.12,614.00L313.98,612.98" stroke="#000" stroke-width="1.45" stroke-linecap="butt" fill="none"/>
<line x1="375.3" y1="435.0" x2="403.3" y2="435.0" stroke="#000" stroke-width="3.8" stroke-linecap="round"/>
<rect x="382.2" y="427.9" width="14.2" height="14.2" fill="#000"/>
<text x="417.4" y="442.0" font-size="19.4">WT</text>
<line x1="375.8" y1="461.0" x2="382.7" y2="461.0" stroke="#000" stroke-width="3.8" stroke-linecap="round"/>
<line x1="386.7" y1="461.0" x2="391.7" y2="461.0" stroke="#000" stroke-width="3.8" stroke-linecap="round"/>
<line x1="397.7" y1="461.0" x2="401.0" y2="461.0" stroke="#000" stroke-width="3.8" stroke-linecap="round"/>
<rect x="383.4" y="454.2" width="13.6" height="13.6" fill="none" stroke="#000" stroke-width="2.4" stroke-linejoin="round"/>
<text x="417.4" y="468.0" font-size="19.4"><tspan font-style="italic">Δsbi</tspan></text>
<text x="521.1" y="441.9" font-size="46" text-anchor="start" font-weight="bold" >D</text>
<line x1="651.6" y1="433.9" x2="651.6" y2="671.6" stroke="#000" stroke-width="3.8"/>
<line x1="649.7" y1="669.7" x2="1002.3" y2="669.7" stroke="#000" stroke-width="3.8"/>
<line x1="644.4" y1="669.7" x2="651.6" y2="669.7" stroke="#000" stroke-width="2.8" stroke-linecap="round"/>
<text x="642.1" y="676.7" font-size="20" text-anchor="end" >4</text>
<line x1="646.6" y1="655.6" x2="651.6" y2="655.6" stroke="#000" stroke-width="2.4" stroke-linecap="round"/>
<line x1="646.6" y1="647.3" x2="651.6" y2="647.3" stroke="#000" stroke-width="2.4" stroke-linecap="round"/>
<line x1="646.6" y1="641.5" x2="651.6" y2="641.5" stroke="#000" stroke-width="2.4" stroke-linecap="round"/>
<line x1="646.6" y1="636.9" x2="651.6" y2="636.9" stroke="#000" stroke-width="2.4" stroke-linecap="round"/>
<line x1="646.6" y1="633.2" x2="651.6" y2="633.2" stroke="#000" stroke-width="2.4" stroke-linecap="round"/>
<line x1="646.6" y1="630.1" x2="651.6" y2="630.1" stroke="#000" stroke-width="2.4" stroke-linecap="round"/>
<line x1="646.6" y1="627.3" x2="651.6" y2="627.3" stroke="#000" stroke-width="2.4" stroke-linecap="round"/>
<line x1="646.6" y1="624.9" x2="651.6" y2="624.9" stroke="#000" stroke-width="2.4" stroke-linecap="round"/>
<line x1="644.4" y1="622.8" x2="651.6" y2="622.8" stroke="#000" stroke-width="2.8" stroke-linecap="round"/>
<text x="642.1" y="629.8" font-size="20" text-anchor="end" >5</text>
<line x1="646.6" y1="608.7" x2="651.6" y2="608.7" stroke="#000" stroke-width="2.4" stroke-linecap="round"/>
<line x1="646.6" y1="600.4" x2="651.6" y2="600.4" stroke="#000" stroke-width="2.4" stroke-linecap="round"/>
<line x1="646.6" y1="594.6" x2="651.6" y2="594.6" stroke="#000" stroke-width="2.4" stroke-linecap="round"/>
<line x1="646.6" y1="590.0" x2="651.6" y2="590.0" stroke="#000" stroke-width="2.4" stroke-linecap="round"/>
<line x1="646.6" y1="586.3" x2="651.6" y2="586.3" stroke="#000" stroke-width="2.4" stroke-linecap="round"/>
<line x1="646.6" y1="583.2" x2="651.6" y2="583.2" stroke="#000" stroke-width="2.4" stroke-linecap="round"/>
<line x1="646.6" y1="580.4" x2="651.6" y2="580.4" stroke="#000" stroke-width="2.4" stroke-linecap="round"/>
<line x1="646.6" y1="578.0" x2="651.6" y2="578.0" stroke="#000" stroke-width="2.4" stroke-linecap="round"/>
<line x1="644.4" y1="575.9" x2="651.6" y2="575.9" stroke="#000" stroke-width="2.8" stroke-linecap="round"/>
<text x="642.1" y="582.9" font-size="20" text-anchor="end" >6</text>
<line x1="646.6" y1="561.8" x2="651.6" y2="561.8" stroke="#000" stroke-width="2.4" stroke-linecap="round"/>
<line x1="646.6" y1="553.5" x2="651.6" y2="553.5" stroke="#000" stroke-width="2.4" stroke-linecap="round"/>
<line x1="646.6" y1="547.7" x2="651.6" y2="547.7" stroke="#000" stroke-width="2.4" stroke-linecap="round"/>
<line x1="646.6" y1="543.1" x2="651.6" y2="543.1" stroke="#000" stroke-width="2.4" stroke-linecap="round"/>
<line x1="646.6" y1="539.4" x2="651.6" y2="539.4" stroke="#000" stroke-width="2.4" stroke-linecap="round"/>
<line x1="646.6" y1="536.3" x2="651.6" y2="536.3" stroke="#000" stroke-width="2.4" stroke-linecap="round"/>
<line x1="646.6" y1="533.5" x2="651.6" y2="533.5" stroke="#000" stroke-width="2.4" stroke-linecap="round"/>
<line x1="646.6" y1="531.1" x2="651.6" y2="531.1" stroke="#000" stroke-width="2.4" stroke-linecap="round"/>
<line x1="644.4" y1="529.0" x2="651.6" y2="529.0" stroke="#000" stroke-width="2.8" stroke-linecap="round"/>
<text x="642.1" y="536.0" font-size="20" text-anchor="end" >7</text>
<line x1="646.6" y1="514.9" x2="651.6" y2="514.9" stroke="#000" stroke-width="2.4" stroke-linecap="round"/>
<line x1="646.6" y1="506.6" x2="651.6" y2="506.6" stroke="#000" stroke-width="2.4" stroke-linecap="round"/>
<line x1="646.6" y1="500.8" x2="651.6" y2="500.8" stroke="#000" stroke-width="2.4" stroke-linecap="round"/>
<line x1="646.6" y1="496.2" x2="651.6" y2="496.2" stroke="#000" stroke-width="2.4" stroke-linecap="round"/>
<line x1="646.6" y1="492.5" x2="651.6" y2="492.5" stroke="#000" stroke-width="2.4" stroke-linecap="round"/>
<line x1="646.6" y1="489.4" x2="651.6" y2="489.4" stroke="#000" stroke-width="2.4" stroke-linecap="round"/>
<line x1="646.6" y1="486.6" x2="651.6" y2="486.6" stroke="#000" stroke-width="2.4" stroke-linecap="round"/>
<line x1="646.6" y1="484.2" x2="651.6" y2="484.2" stroke="#000" stroke-width="2.4" stroke-linecap="round"/>
<line x1="644.4" y1="482.1" x2="651.6" y2="482.1" stroke="#000" stroke-width="2.8" stroke-linecap="round"/>
<text x="642.1" y="489.1" font-size="20" text-anchor="end" >8</text>
<line x1="646.6" y1="468.0" x2="651.6" y2="468.0" stroke="#000" stroke-width="2.4" stroke-linecap="round"/>
<line x1="646.6" y1="459.7" x2="651.6" y2="459.7" stroke="#000" stroke-width="2.4" stroke-linecap="round"/>
<line x1="646.6" y1="453.9" x2="651.6" y2="453.9" stroke="#000" stroke-width="2.4" stroke-linecap="round"/>
<line x1="646.6" y1="449.3" x2="651.6" y2="449.3" stroke="#000" stroke-width="2.4" stroke-linecap="round"/>
<line x1="646.6" y1="445.6" x2="651.6" y2="445.6" stroke="#000" stroke-width="2.4" stroke-linecap="round"/>
<line x1="646.6" y1="442.5" x2="651.6" y2="442.5" stroke="#000" stroke-width="2.4" stroke-linecap="round"/>
<line x1="646.6" y1="439.7" x2="651.6" y2="439.7" stroke="#000" stroke-width="2.4" stroke-linecap="round"/>
<line x1="646.6" y1="437.3" x2="651.6" y2="437.3" stroke="#000" stroke-width="2.4" stroke-linecap="round"/>
<line x1="644.4" y1="435.2" x2="651.6" y2="435.2" stroke="#000" stroke-width="2.8" stroke-linecap="round"/>
<text x="642.1" y="442.2" font-size="20" text-anchor="end" >9</text>
<line x1="739.5" y1="669.7" x2="739.5" y2="676.7" stroke="#000" stroke-width="3.8" stroke-linecap="round"/>
<text x="739.5" y="700.3" font-size="23.5" text-anchor="middle" textLength="35" lengthAdjust="spacingAndGlyphs">WT</text>
<line x1="914.6" y1="669.7" x2="914.6" y2="676.7" stroke="#000" stroke-width="3.8" stroke-linecap="round"/>
<text x="914.6" y="700.3" font-size="23.5" text-anchor="middle" >Δsbi</text>
<text transform="translate(585.2,549.4) rotate(-90)" x="0" y="0" font-size="22.6" text-anchor="middle">CFU/lesion (log<tspan font-size="15.4" dy="4.5">10</tspan><tspan dy="-4.5">)</tspan></text>
<polyline points="740.6,465.9 740.6,457.1 915.7,457.1 915.7,465.9" fill="none" stroke="#000" stroke-width="3.4" stroke-linejoin="round" stroke-linecap="round"/>
<text x="832.2" y="452.1" font-size="30" text-anchor="middle" font-weight="bold" >*</text>
<line x1="681.0" y1="503.0" x2="797.8" y2="503.0" stroke="#000" stroke-width="2.5"/>
<line x1="709.3" y1="497.5" x2="769.3" y2="497.5" stroke="#000" stroke-width="2.5"/>
<line x1="709.3" y1="509.5" x2="769.3" y2="509.5" stroke="#000" stroke-width="2.5"/>
<line x1="740.6" y1="497.5" x2="740.6" y2="509.5" stroke="#000" stroke-width="2.5"/>
<rect x="721.8" y="478.3" width="14.2" height="14.2" fill="#000"/>
<rect x="700.9" y="501.2" width="14.2" height="14.2" fill="#000"/>
<rect x="721.8" y="516.8" width="14.2" height="14.2" fill="#000"/>
<rect x="742.9" y="494.5" width="14.2" height="14.2" fill="#000"/>
<rect x="742.9" y="502.7" width="14.2" height="14.2" fill="#000"/>
<rect x="763.8" y="500.8" width="14.2" height="14.2" fill="#000"/>
<line x1="856.1" y1="532.3" x2="972.9" y2="532.3" stroke="#000" stroke-width="2.5"/>
<line x1="884.5" y1="527.0" x2="945.0" y2="527.0" stroke="#000" stroke-width="2.5"/>
<line x1="884.5" y1="539.5" x2="945.0" y2="539.5" stroke="#000" stroke-width="2.5"/>
<line x1="914.7" y1="527.0" x2="914.7" y2="539.5" stroke="#000" stroke-width="2.5"/>
<rect x="907.4" y="508.8" width="14.6" height="14.6" fill="none" stroke="#000" stroke-width="2.4" stroke-linejoin="round"/>
<rect x="875.6" y="520.1" width="14.6" height="14.6" fill="none" stroke="#000" stroke-width="2.4" stroke-linejoin="round"/>
<rect x="897.1" y="530.9" width="14.6" height="14.6" fill="none" stroke="#000" stroke-width="2.4" stroke-linejoin="round"/>
<rect x="917.8" y="532.2" width="14.6" height="14.6" fill="none" stroke="#000" stroke-width="2.4" stroke-linejoin="round"/>
<rect x="939.3" y="526.6" width="14.6" height="14.6" fill="none" stroke="#000" stroke-width="2.4" stroke-linejoin="round"/>
<rect x="907.4" y="569.0" width="14.6" height="14.6" fill="none" stroke="#000" stroke-width="2.4" stroke-linejoin="round"/>
<text x="3.8" y="823.6" font-size="46" text-anchor="start" font-weight="bold" >E</text>
<text transform="translate(60.8,930.0) rotate(-90)" x="0" y="0" font-size="23.4" text-anchor="middle">Area of Dermonecrosis (mm<tspan font-size="15.9" dy="-8.4">2</tspan><tspan dy="8.4">)</tspan></text>
<line x1="125.5" y1="810.6" x2="125.5" y2="1055.3" stroke="#000" stroke-width="4"/>
<line x1="123.5" y1="1053.3" x2="488.0" y2="1053.3" stroke="#000" stroke-width="4"/>
<line x1="118.5" y1="1053.3" x2="125.5" y2="1053.3" stroke="#000" stroke-width="4" stroke-linecap="round"/>
<text x="116.5" y="1060.3" font-size="20" text-anchor="end" >0</text>
<line x1="118.5" y1="993.1" x2="125.5" y2="993.1" stroke="#000" stroke-width="4" stroke-linecap="round"/>
<text x="116.5" y="1000.1" font-size="20" text-anchor="end" >50</text>
<line x1="118.5" y1="932.8" x2="125.5" y2="932.8" stroke="#000" stroke-width="4" stroke-linecap="round"/>
<text x="116.5" y="939.8" font-size="20" text-anchor="end" >100</text>
<line x1="118.5" y1="872.6" x2="125.5" y2="872.6" stroke="#000" stroke-width="4" stroke-linecap="round"/>
<text x="116.5" y="879.6" font-size="20" text-anchor="end" >150</text>
<line x1="118.5" y1="812.4" x2="125.5" y2="812.4" stroke="#000" stroke-width="4" stroke-linecap="round"/>
<text x="116.5" y="819.4" font-size="20" text-anchor="end" >200</text>
<line x1="125.4" y1="1053.3" x2="125.4" y2="1060.3" stroke="#000" stroke-width="4" stroke-linecap="round"/>
<text x="125.4" y="1080.8" font-size="20" text-anchor="middle" >0</text>
<line x1="245.9" y1="1053.3" x2="245.9" y2="1060.3" stroke="#000" stroke-width="4" stroke-linecap="round"/>
<text x="245.9" y="1080.8" font-size="20" text-anchor="middle" >5</text>
<line x1="366.5" y1="1053.3" x2="366.5" y2="1060.3" stroke="#000" stroke-width="4" stroke-linecap="round"/>
<text x="366.5" y="1080.8" font-size="20" text-anchor="middle" >10</text>
<line x1="487.0" y1="1053.3" x2="487.0" y2="1060.3" stroke="#000" stroke-width="4" stroke-linecap="round"/>
<text x="487.0" y="1080.8" font-size="20" text-anchor="middle" >15</text>
<text x="306.4" y="1119.6" font-size="23.4" text-anchor="middle" >Time (days)</text>
<line x1="149.5" y1="860.3" x2="149.5" y2="869.5" stroke="#000" stroke-width="2.8"/>
<line x1="142.5" y1="860.3" x2="156.5" y2="860.3" stroke="#000" stroke-width="2.7" stroke-linecap="round"/>
<line x1="149.5" y1="882.5" x2="149.5" y2="885.3" stroke="#000" stroke-width="2.8"/>
<line x1="142.5" y1="885.3" x2="156.5" y2="885.3" stroke="#000" stroke-width="2.7" stroke-linecap="round"/>
<line x1="173.6" y1="885.7" x2="173.6" y2="890.9" stroke="#000" stroke-width="2.8"/>
<line x1="166.6" y1="885.7" x2="180.6" y2="885.7" stroke="#000" stroke-width="2.7" stroke-linecap="round"/>
<line x1="173.6" y1="903.9" x2="173.6" y2="905.2" stroke="#000" stroke-width="2.8"/>
<line x1="166.6" y1="905.2" x2="180.6" y2="905.2" stroke="#000" stroke-width="2.7" stroke-linecap="round"/>
<line x1="197.7" y1="889.0" x2="197.7" y2="890.5" stroke="#000" stroke-width="2.8"/>
<line x1="190.7" y1="889.0" x2="204.7" y2="889.0" stroke="#000" stroke-width="2.7" stroke-linecap="round"/>
<line x1="270.1" y1="885.7" x2="270.1" y2="891.9" stroke="#000" stroke-width="2.8"/>
<line x1="263.1" y1="885.7" x2="277.1" y2="885.7" stroke="#000" stroke-width="2.7" stroke-linecap="round"/>
<line x1="270.1" y1="904.9" x2="270.1" y2="908.2" stroke="#000" stroke-width="2.8"/>
<line x1="263.1" y1="908.2" x2="277.1" y2="908.2" stroke="#000" stroke-width="2.7" stroke-linecap="round"/>
<line x1="294.2" y1="888.6" x2="294.2" y2="894.5" stroke="#000" stroke-width="2.8"/>
<line x1="287.2" y1="888.6" x2="301.2" y2="888.6" stroke="#000" stroke-width="2.7" stroke-linecap="round"/>
<line x1="294.2" y1="907.5" x2="294.2" y2="909.1" stroke="#000" stroke-width="2.8"/>
<line x1="287.2" y1="909.1" x2="301.2" y2="909.1" stroke="#000" stroke-width="2.7" stroke-linecap="round"/>
<line x1="318.3" y1="914.1" x2="318.3" y2="917.2" stroke="#000" stroke-width="2.8"/>
<line x1="311.3" y1="914.1" x2="325.3" y2="914.1" stroke="#000" stroke-width="2.7" stroke-linecap="round"/>
<line x1="318.3" y1="930.2" x2="318.3" y2="933.6" stroke="#000" stroke-width="2.8"/>
<line x1="311.3" y1="933.6" x2="325.3" y2="933.6" stroke="#000" stroke-width="2.7" stroke-linecap="round"/>
<line x1="342.4" y1="918.2" x2="342.4" y2="921.3" stroke="#000" stroke-width="2.8"/>
<line x1="335.4" y1="918.2" x2="349.4" y2="918.2" stroke="#000" stroke-width="2.7" stroke-linecap="round"/>
<line x1="342.4" y1="934.3" x2="342.4" y2="937.3" stroke="#000" stroke-width="2.8"/>
<line x1="335.4" y1="937.3" x2="349.4" y2="937.3" stroke="#000" stroke-width="2.7" stroke-linecap="round"/>
<polyline points="125.4,1053.5 149.5,876.0 173.6,897.4 197.7,897.0 221.8,898.0 270.1,898.4 294.2,901.0 318.3,923.7 342.4,927.8 390.6,970.5 438.8,1031.0 487.0,1049.5" fill="none" stroke="#000" stroke-width="3.8" stroke-linejoin="round" stroke-linecap="butt" stroke-dasharray="3.8 6.6"/>
<rect x="118.6" y="1046.7" width="13.6" height="13.6" fill="none" stroke="#000" stroke-width="2.4" stroke-linejoin="round"/>
<rect x="142.7" y="869.2" width="13.6" height="13.6" fill="none" stroke="#000" stroke-width="2.4" stroke-linejoin="round"/>
<rect x="166.8" y="890.6" width="13.6" height="13.6" fill="none" stroke="#000" stroke-width="2.4" stroke-linejoin="round"/>
<rect x="190.9" y="890.2" width="13.6" height="13.6" fill="none" stroke="#000" stroke-width="2.4" stroke-linejoin="round"/>
<rect x="215.0" y="891.2" width="13.6" height="13.6" fill="none" stroke="#000" stroke-width="2.4" stroke-linejoin="round"/>
<rect x="263.3" y="891.6" width="13.6" height="13.6" fill="none" stroke="#000" stroke-width="2.4" stroke-linejoin="round"/>
<rect x="287.4" y="894.2" width="13.6" height="13.6" fill="none" stroke="#000" stroke-width="2.4" stroke-linejoin="round"/>
<rect x="311.5" y="916.9" width="13.6" height="13.6" fill="none" stroke="#000" stroke-width="2.4" stroke-linejoin="round"/>
<rect x="335.6" y="921.0" width="13.6" height="13.6" fill="none" stroke="#000" stroke-width="2.4" stroke-linejoin="round"/>
<rect x="383.8" y="963.7" width="13.6" height="13.6" fill="none" stroke="#000" stroke-width="2.4" stroke-linejoin="round"/>
<rect x="432.0" y="1024.2" width="13.6" height="13.6" fill="none" stroke="#000" stroke-width="2.4" stroke-linejoin="round"/>
<rect x="480.2" y="1042.7" width="13.6" height="13.6" fill="none" stroke="#000" stroke-width="2.4" stroke-linejoin="round"/>
<line x1="149.5" y1="883.7" x2="149.5" y2="891.9" stroke="#000" stroke-width="2.8"/>
<line x1="142.5" y1="883.7" x2="156.5" y2="883.7" stroke="#000" stroke-width="2.7" stroke-linecap="round"/>
<line x1="149.5" y1="904.9" x2="149.5" y2="916.6" stroke="#000" stroke-width="2.8"/>
<line x1="142.5" y1="916.6" x2="156.5" y2="916.6" stroke="#000" stroke-width="2.7" stroke-linecap="round"/>
<line x1="173.6" y1="897.0" x2="173.6" y2="904.6" stroke="#000" stroke-width="2.8"/>
<line x1="166.6" y1="897.0" x2="180.6" y2="897.0" stroke="#000" stroke-width="2.7" stroke-linecap="round"/>
<line x1="173.6" y1="917.6" x2="173.6" y2="925.2" stroke="#000" stroke-width="2.8"/>
<line x1="166.6" y1="925.2" x2="180.6" y2="925.2" stroke="#000" stroke-width="2.7" stroke-linecap="round"/>
<line x1="197.7" y1="896.0" x2="197.7" y2="903.0" stroke="#000" stroke-width="2.8"/>
<line x1="190.7" y1="896.0" x2="204.7" y2="896.0" stroke="#000" stroke-width="2.7" stroke-linecap="round"/>
<line x1="197.7" y1="916.0" x2="197.7" y2="925.2" stroke="#000" stroke-width="2.8"/>
<line x1="190.7" y1="925.2" x2="204.7" y2="925.2" stroke="#000" stroke-width="2.7" stroke-linecap="round"/>
<line x1="221.8" y1="897.0" x2="221.8" y2="904.6" stroke="#000" stroke-width="2.8"/>
<line x1="214.8" y1="897.0" x2="228.8" y2="897.0" stroke="#000" stroke-width="2.7" stroke-linecap="round"/>
<line x1="221.8" y1="917.6" x2="221.8" y2="926.3" stroke="#000" stroke-width="2.8"/>
<line x1="214.8" y1="926.3" x2="228.8" y2="926.3" stroke="#000" stroke-width="2.7" stroke-linecap="round"/>
<line x1="270.1" y1="903.0" x2="270.1" y2="914.8" stroke="#000" stroke-width="2.8"/>
<line x1="263.1" y1="903.0" x2="277.1" y2="903.0" stroke="#000" stroke-width="2.7" stroke-linecap="round"/>
<line x1="270.1" y1="927.8" x2="270.1" y2="940.0" stroke="#000" stroke-width="2.8"/>
<line x1="263.1" y1="940.0" x2="277.1" y2="940.0" stroke="#000" stroke-width="2.7" stroke-linecap="round"/>
<line x1="294.2" y1="904.0" x2="294.2" y2="917.8" stroke="#000" stroke-width="2.8"/>
<line x1="287.2" y1="904.0" x2="301.2" y2="904.0" stroke="#000" stroke-width="2.7" stroke-linecap="round"/>
<line x1="294.2" y1="930.8" x2="294.2" y2="946.3" stroke="#000" stroke-width="2.8"/>
<line x1="287.2" y1="946.3" x2="301.2" y2="946.3" stroke="#000" stroke-width="2.7" stroke-linecap="round"/>
<line x1="318.3" y1="933.0" x2="318.3" y2="942.5" stroke="#000" stroke-width="2.8"/>
<line x1="311.3" y1="933.0" x2="325.3" y2="933.0" stroke="#000" stroke-width="2.7" stroke-linecap="round"/>
<line x1="318.3" y1="955.5" x2="318.3" y2="966.8" stroke="#000" stroke-width="2.8"/>
<line x1="311.3" y1="966.8" x2="325.3" y2="966.8" stroke="#000" stroke-width="2.7" stroke-linecap="round"/>
<line x1="342.4" y1="936.0" x2="342.4" y2="948.6" stroke="#000" stroke-width="2.8"/>
<line x1="335.4" y1="936.0" x2="349.4" y2="936.0" stroke="#000" stroke-width="2.7" stroke-linecap="round"/>
<line x1="342.4" y1="961.6" x2="342.4" y2="976.2" stroke="#000" stroke-width="2.8"/>
<line x1="335.4" y1="976.2" x2="349.4" y2="976.2" stroke="#000" stroke-width="2.7" stroke-linecap="round"/>
<line x1="390.6" y1="977.5" x2="390.6" y2="990.7" stroke="#000" stroke-width="2.8"/>
<line x1="383.6" y1="977.5" x2="397.6" y2="977.5" stroke="#000" stroke-width="2.7" stroke-linecap="round"/>
<line x1="390.6" y1="1003.7" x2="390.6" y2="1016.6" stroke="#000" stroke-width="2.8"/>
<line x1="383.6" y1="1016.6" x2="397.6" y2="1016.6" stroke="#000" stroke-width="2.7" stroke-linecap="round"/>
<line x1="438.8" y1="1022.0" x2="438.8" y2="1027.6" stroke="#000" stroke-width="2.8"/>
<line x1="431.8" y1="1022.0" x2="445.8" y2="1022.0" stroke="#000" stroke-width="2.7" stroke-linecap="round"/>
<line x1="438.8" y1="1040.6" x2="438.8" y2="1048.0" stroke="#000" stroke-width="2.8"/>
<line x1="431.8" y1="1048.0" x2="445.8" y2="1048.0" stroke="#000" stroke-width="2.7" stroke-linecap="round"/>
<polyline points="125.4,1053.5 149.5,898.4 173.6,911.1 197.7,909.5 221.8,911.1 270.1,921.2 294.2,924.3 318.3,949.0 342.4,955.1 390.6,997.2 438.8,1034.1 487.0,1050.5" fill="none" stroke="#000" stroke-width="4" stroke-linejoin="round" stroke-linecap="butt"/>
<rect x="118.3" y="1046.4" width="14.2" height="14.2" fill="#000"/>
<rect x="142.4" y="891.3" width="14.2" height="14.2" fill="#000"/>
<rect x="166.5" y="904.0" width="14.2" height="14.2" fill="#000"/>
<rect x="190.6" y="902.4" width="14.2" height="14.2" fill="#000"/>
<rect x="214.7" y="904.0" width="14.2" height="14.2" fill="#000"/>
<rect x="263.0" y="914.1" width="14.2" height="14.2" fill="#000"/>
<rect x="287.1" y="917.2" width="14.2" height="14.2" fill="#000"/>
<rect x="311.2" y="941.9" width="14.2" height="14.2" fill="#000"/>
<rect x="335.3" y="948.0" width="14.2" height="14.2" fill="#000"/>
<rect x="383.5" y="990.1" width="14.2" height="14.2" fill="#000"/>
<rect x="431.7" y="1027.0" width="14.2" height="14.2" fill="#000"/>
<rect x="479.9" y="1043.4" width="14.2" height="14.2" fill="#000"/>
<line x1="357.6" y1="814.2" x2="385.7" y2="814.2" stroke="#000" stroke-width="3.8" stroke-linecap="round"/>
<rect x="364.5" y="807.1" width="14.2" height="14.2" fill="#000"/>
<text x="399.5" y="821.2" font-size="19.4">WT</text>
<line x1="357.6" y1="839.8" x2="364.5" y2="839.8" stroke="#000" stroke-width="3.8" stroke-linecap="round"/>
<line x1="368.5" y1="839.8" x2="373.5" y2="839.8" stroke="#000" stroke-width="3.8" stroke-linecap="round"/>
<line x1="379.5" y1="839.8" x2="382.7" y2="839.8" stroke="#000" stroke-width="3.8" stroke-linecap="round"/>
<rect x="365.2" y="833.0" width="13.6" height="13.6" fill="none" stroke="#000" stroke-width="2.4" stroke-linejoin="round"/>
<text x="399.5" y="846.8" font-size="19.4"><tspan font-style="italic">Δspa</tspan></text>
<text x="523.3" y="823.5" font-size="46" text-anchor="start" font-weight="bold" >F</text>
<text transform="translate(582.6,930.2) rotate(-90)" x="0" y="0" font-size="23" text-anchor="middle">Area of Dermonecrosis (mm<tspan font-size="15.6" dy="-8.3">2</tspan><tspan dy="8.3">)</tspan></text>
<line x1="645.5" y1="815.2" x2="645.5" y2="1054.8" stroke="#000" stroke-width="4"/>
<line x1="643.5" y1="1052.8" x2="1003.0" y2="1052.8" stroke="#000" stroke-width="4"/>
<line x1="638.5" y1="1052.8" x2="645.5" y2="1052.8" stroke="#000" stroke-width="4" stroke-linecap="round"/>
<text x="636.5" y="1059.8" font-size="20" text-anchor="end" >0</text>
<line x1="638.5" y1="984.9" x2="645.5" y2="984.9" stroke="#000" stroke-width="4" stroke-linecap="round"/>
<text x="636.5" y="991.9" font-size="20" text-anchor="end" >50</text>
<line x1="638.5" y1="917.0" x2="645.5" y2="917.0" stroke="#000" stroke-width="4" stroke-linecap="round"/>
<text x="636.5" y="924.0" font-size="20" text-anchor="end" >100</text>
<line x1="638.5" y1="849.1" x2="645.5" y2="849.1" stroke="#000" stroke-width="4" stroke-linecap="round"/>
<text x="636.5" y="856.1" font-size="20" text-anchor="end" >150</text>
<line x1="645.5" y1="1052.8" x2="645.5" y2="1059.8" stroke="#000" stroke-width="4" stroke-linecap="round"/>
<text x="645.5" y="1080.3" font-size="20" text-anchor="middle" >0</text>
<line x1="764.8" y1="1052.8" x2="764.8" y2="1059.8" stroke="#000" stroke-width="4" stroke-linecap="round"/>
<text x="764.8" y="1080.3" font-size="20" text-anchor="middle" >5</text>
<line x1="884.0" y1="1052.8" x2="884.0" y2="1059.8" stroke="#000" stroke-width="4" stroke-linecap="round"/>
<text x="884.0" y="1080.3" font-size="20" text-anchor="middle" >10</text>
<line x1="1003.2" y1="1052.8" x2="1003.2" y2="1059.8" stroke="#000" stroke-width="4" stroke-linecap="round"/>
<text x="1003.2" y="1080.3" font-size="20" text-anchor="middle" >15</text>
<text x="824.0" y="1118.6" font-size="23" text-anchor="middle" >Time (days)</text>
<line x1="669.4" y1="940.0" x2="669.4" y2="944.9" stroke="#000" stroke-width="2.8"/>
<line x1="662.4" y1="940.0" x2="676.4" y2="940.0" stroke="#000" stroke-width="2.7" stroke-linecap="round"/>
<line x1="669.4" y1="957.9" x2="669.4" y2="964.0" stroke="#000" stroke-width="2.8"/>
<line x1="662.4" y1="964.0" x2="676.4" y2="964.0" stroke="#000" stroke-width="2.7" stroke-linecap="round"/>
<line x1="717.0" y1="952.0" x2="717.0" y2="957.2" stroke="#000" stroke-width="2.8"/>
<line x1="710.0" y1="952.0" x2="724.0" y2="952.0" stroke="#000" stroke-width="2.7" stroke-linecap="round"/>
<line x1="717.0" y1="970.2" x2="717.0" y2="976.4" stroke="#000" stroke-width="2.8"/>
<line x1="710.0" y1="976.4" x2="724.0" y2="976.4" stroke="#000" stroke-width="2.7" stroke-linecap="round"/>
<line x1="740.9" y1="946.1" x2="740.9" y2="956.0" stroke="#000" stroke-width="2.8"/>
<line x1="733.9" y1="946.1" x2="747.9" y2="946.1" stroke="#000" stroke-width="2.7" stroke-linecap="round"/>
<line x1="740.9" y1="969.0" x2="740.9" y2="978.7" stroke="#000" stroke-width="2.8"/>
<line x1="733.9" y1="978.7" x2="747.9" y2="978.7" stroke="#000" stroke-width="2.7" stroke-linecap="round"/>
<line x1="764.8" y1="941.0" x2="764.8" y2="952.7" stroke="#000" stroke-width="2.8"/>
<line x1="757.8" y1="941.0" x2="771.8" y2="941.0" stroke="#000" stroke-width="2.7" stroke-linecap="round"/>
<line x1="764.8" y1="965.7" x2="764.8" y2="975.8" stroke="#000" stroke-width="2.8"/>
<line x1="757.8" y1="975.8" x2="771.8" y2="975.8" stroke="#000" stroke-width="2.7" stroke-linecap="round"/>
<line x1="788.6" y1="949.4" x2="788.6" y2="960.5" stroke="#000" stroke-width="2.8"/>
<line x1="781.6" y1="949.4" x2="795.6" y2="949.4" stroke="#000" stroke-width="2.7" stroke-linecap="round"/>
<line x1="788.6" y1="973.5" x2="788.6" y2="984.6" stroke="#000" stroke-width="2.8"/>
<line x1="781.6" y1="984.6" x2="795.6" y2="984.6" stroke="#000" stroke-width="2.7" stroke-linecap="round"/>
<line x1="812.5" y1="960.9" x2="812.5" y2="972.0" stroke="#000" stroke-width="2.8"/>
<line x1="805.5" y1="960.9" x2="819.5" y2="960.9" stroke="#000" stroke-width="2.7" stroke-linecap="round"/>
<line x1="812.5" y1="985.0" x2="812.5" y2="995.4" stroke="#000" stroke-width="2.8"/>
<line x1="805.5" y1="995.4" x2="819.5" y2="995.4" stroke="#000" stroke-width="2.7" stroke-linecap="round"/>
<line x1="836.3" y1="968.3" x2="836.3" y2="979.0" stroke="#000" stroke-width="2.8"/>
<line x1="829.3" y1="968.3" x2="843.3" y2="968.3" stroke="#000" stroke-width="2.7" stroke-linecap="round"/>
<line x1="836.3" y1="992.0" x2="836.3" y2="1001.5" stroke="#000" stroke-width="2.8"/>
<line x1="829.3" y1="1001.5" x2="843.3" y2="1001.5" stroke="#000" stroke-width="2.7" stroke-linecap="round"/>
<line x1="884.0" y1="1007.2" x2="884.0" y2="1011.0" stroke="#000" stroke-width="2.8"/>
<line x1="877.0" y1="1007.2" x2="891.0" y2="1007.2" stroke="#000" stroke-width="2.7" stroke-linecap="round"/>
<line x1="884.0" y1="1024.0" x2="884.0" y2="1029.2" stroke="#000" stroke-width="2.8"/>
<line x1="877.0" y1="1029.2" x2="891.0" y2="1029.2" stroke="#000" stroke-width="2.7" stroke-linecap="round"/>
<polyline points="645.5,1052.7 669.4,951.4 717.0,963.7 740.9,962.5 764.8,959.2 788.6,967.0 812.5,978.5 836.3,985.5 884.0,1017.5 907.9,1030.2 931.7,1040.1 955.5,1050.7 1003.2,1052.8" fill="none" stroke="#000" stroke-width="3.8" stroke-linejoin="round" stroke-linecap="butt" stroke-dasharray="3.8 6.6"/>
<rect x="638.7" y="1045.9" width="13.6" height="13.6" fill="none" stroke="#000" stroke-width="2.4" stroke-linejoin="round"/>
<rect x="662.6" y="944.6" width="13.6" height="13.6" fill="none" stroke="#000" stroke-width="2.4" stroke-linejoin="round"/>
<rect x="710.2" y="956.9" width="13.6" height="13.6" fill="none" stroke="#000" stroke-width="2.4" stroke-linejoin="round"/>
<rect x="734.1" y="955.7" width="13.6" height="13.6" fill="none" stroke="#000" stroke-width="2.4" stroke-linejoin="round"/>
<rect x="758.0" y="952.4" width="13.6" height="13.6" fill="none" stroke="#000" stroke-width="2.4" stroke-linejoin="round"/>
<rect x="781.8" y="960.2" width="13.6" height="13.6" fill="none" stroke="#000" stroke-width="2.4" stroke-linejoin="round"/>
<rect x="805.7" y="971.7" width="13.6" height="13.6" fill="none" stroke="#000" stroke-width="2.4" stroke-linejoin="round"/>
<rect x="829.5" y="978.7" width="13.6" height="13.6" fill="none" stroke="#000" stroke-width="2.4" stroke-linejoin="round"/>
<rect x="877.2" y="1010.7" width="13.6" height="13.6" fill="none" stroke="#000" stroke-width="2.4" stroke-linejoin="round"/>
<rect x="901.1" y="1023.4" width="13.6" height="13.6" fill="none" stroke="#000" stroke-width="2.4" stroke-linejoin="round"/>
<rect x="924.9" y="1033.3" width="13.6" height="13.6" fill="none" stroke="#000" stroke-width="2.4" stroke-linejoin="round"/>
<rect x="948.8" y="1043.9" width="13.6" height="13.6" fill="none" stroke="#000" stroke-width="2.4" stroke-linejoin="round"/>
<rect x="996.5" y="1046.0" width="13.6" height="13.6" fill="none" stroke="#000" stroke-width="2.4" stroke-linejoin="round"/>
<line x1="717.0" y1="910.0" x2="717.0" y2="920.1" stroke="#000" stroke-width="2.8"/>
<line x1="710.0" y1="920.1" x2="724.0" y2="920.1" stroke="#000" stroke-width="2.7" stroke-linecap="round"/>
<line x1="740.9" y1="904.2" x2="740.9" y2="918.2" stroke="#000" stroke-width="2.8"/>
<line x1="733.9" y1="918.2" x2="747.9" y2="918.2" stroke="#000" stroke-width="2.7" stroke-linecap="round"/>
<line x1="764.8" y1="895.4" x2="764.8" y2="917.2" stroke="#000" stroke-width="2.8"/>
<line x1="757.8" y1="917.2" x2="771.8" y2="917.2" stroke="#000" stroke-width="2.7" stroke-linecap="round"/>
<line x1="788.6" y1="873.0" x2="788.6" y2="891.5" stroke="#000" stroke-width="2.8"/>
<line x1="781.6" y1="873.0" x2="795.6" y2="873.0" stroke="#000" stroke-width="2.7" stroke-linecap="round"/>
<line x1="788.6" y1="904.5" x2="788.6" y2="910.0" stroke="#000" stroke-width="2.8"/>
<line x1="781.6" y1="910.0" x2="795.6" y2="910.0" stroke="#000" stroke-width="2.7" stroke-linecap="round"/>
<line x1="812.5" y1="887.0" x2="812.5" y2="905.5" stroke="#000" stroke-width="2.8"/>
<line x1="805.5" y1="887.0" x2="819.5" y2="887.0" stroke="#000" stroke-width="2.7" stroke-linecap="round"/>
<line x1="812.5" y1="918.5" x2="812.5" y2="925.0" stroke="#000" stroke-width="2.8"/>
<line x1="805.5" y1="925.0" x2="819.5" y2="925.0" stroke="#000" stroke-width="2.7" stroke-linecap="round"/>
<line x1="836.3" y1="893.0" x2="836.3" y2="911.5" stroke="#000" stroke-width="2.8"/>
<line x1="829.3" y1="893.0" x2="843.3" y2="893.0" stroke="#000" stroke-width="2.7" stroke-linecap="round"/>
<line x1="836.3" y1="924.5" x2="836.3" y2="940.0" stroke="#000" stroke-width="2.8"/>
<line x1="829.3" y1="940.0" x2="843.3" y2="940.0" stroke="#000" stroke-width="2.7" stroke-linecap="round"/>
<line x1="884.0" y1="932.0" x2="884.0" y2="955.5" stroke="#000" stroke-width="2.8"/>
<line x1="877.0" y1="932.0" x2="891.0" y2="932.0" stroke="#000" stroke-width="2.7" stroke-linecap="round"/>
<line x1="884.0" y1="968.5" x2="884.0" y2="977.0" stroke="#000" stroke-width="2.8"/>
<line x1="877.0" y1="977.0" x2="891.0" y2="977.0" stroke="#000" stroke-width="2.7" stroke-linecap="round"/>
<line x1="907.9" y1="960.0" x2="907.9" y2="984.8" stroke="#000" stroke-width="2.8"/>
<line x1="900.9" y1="960.0" x2="914.9" y2="960.0" stroke="#000" stroke-width="2.7" stroke-linecap="round"/>
<line x1="907.9" y1="997.8" x2="907.9" y2="1008.7" stroke="#000" stroke-width="2.8"/>
<line x1="900.9" y1="1008.7" x2="914.9" y2="1008.7" stroke="#000" stroke-width="2.7" stroke-linecap="round"/>
<line x1="931.7" y1="990.0" x2="931.7" y2="1008.3" stroke="#000" stroke-width="2.8"/>
<line x1="924.7" y1="990.0" x2="938.7" y2="990.0" stroke="#000" stroke-width="2.7" stroke-linecap="round"/>
<line x1="931.7" y1="1021.3" x2="931.7" y2="1030.0" stroke="#000" stroke-width="2.8"/>
<line x1="924.7" y1="1030.0" x2="938.7" y2="1030.0" stroke="#000" stroke-width="2.7" stroke-linecap="round"/>
<line x1="955.5" y1="1015.0" x2="955.5" y2="1029.9" stroke="#000" stroke-width="2.8"/>
<line x1="948.5" y1="1015.0" x2="962.5" y2="1015.0" stroke="#000" stroke-width="2.7" stroke-linecap="round"/>
<line x1="955.5" y1="1042.9" x2="955.5" y2="1046.0" stroke="#000" stroke-width="2.8"/>
<line x1="948.5" y1="1046.0" x2="962.5" y2="1046.0" stroke="#000" stroke-width="2.7" stroke-linecap="round"/>
<polyline points="645.5,1052.7 669.4,932.8 717.0,903.5 740.9,897.7 764.8,888.9 788.6,898.0 812.5,912.0 836.3,918.0 884.0,962.0 907.9,991.2 931.7,1014.8 955.5,1036.4 1003.2,1045.6" fill="none" stroke="#000" stroke-width="4" stroke-linejoin="round" stroke-linecap="butt" stroke-dasharray="10 5"/>
<rect x="638.8" y="1046.0" width="13.4" height="13.4" fill="none" stroke="#000" stroke-width="2.6"/>
<rect x="638.8" y="1046.0" width="13.4" height="7.2" fill="#000"/>
<rect x="662.6" y="926.1" width="13.4" height="13.4" fill="none" stroke="#000" stroke-width="2.6"/>
<rect x="662.6" y="926.1" width="13.4" height="7.2" fill="#000"/>
<rect x="710.3" y="896.8" width="13.4" height="13.4" fill="none" stroke="#000" stroke-width="2.6"/>
<rect x="710.3" y="896.8" width="13.4" height="7.2" fill="#000"/>
<rect x="734.2" y="891.0" width="13.4" height="13.4" fill="none" stroke="#000" stroke-width="2.6"/>
<rect x="734.2" y="891.0" width="13.4" height="7.2" fill="#000"/>
<rect x="758.0" y="882.2" width="13.4" height="13.4" fill="none" stroke="#000" stroke-width="2.6"/>
<rect x="758.0" y="882.2" width="13.4" height="7.2" fill="#000"/>
<rect x="781.9" y="891.3" width="13.4" height="13.4" fill="none" stroke="#000" stroke-width="2.6"/>
<rect x="781.9" y="891.3" width="13.4" height="7.2" fill="#000"/>
<rect x="805.8" y="905.3" width="13.4" height="13.4" fill="none" stroke="#000" stroke-width="2.6"/>
<rect x="805.8" y="905.3" width="13.4" height="7.2" fill="#000"/>
<rect x="829.6" y="911.3" width="13.4" height="13.4" fill="none" stroke="#000" stroke-width="2.6"/>
<rect x="829.6" y="911.3" width="13.4" height="7.2" fill="#000"/>
<rect x="877.3" y="955.3" width="13.4" height="13.4" fill="none" stroke="#000" stroke-width="2.6"/>
<rect x="877.3" y="955.3" width="13.4" height="7.2" fill="#000"/>
<rect x="901.1" y="984.5" width="13.4" height="13.4" fill="none" stroke="#000" stroke-width="2.6"/>
<rect x="901.1" y="984.5" width="13.4" height="7.2" fill="#000"/>
<rect x="925.0" y="1008.1" width="13.4" height="13.4" fill="none" stroke="#000" stroke-width="2.6"/>
<rect x="925.0" y="1008.1" width="13.4" height="7.2" fill="#000"/>
<rect x="948.8" y="1029.7" width="13.4" height="13.4" fill="none" stroke="#000" stroke-width="2.6"/>
<rect x="948.8" y="1029.7" width="13.4" height="7.2" fill="#000"/>
<rect x="996.5" y="1038.9" width="13.4" height="13.4" fill="none" stroke="#000" stroke-width="2.6"/>
<rect x="996.5" y="1038.9" width="13.4" height="7.2" fill="#000"/>
<line x1="669.4" y1="895.1" x2="669.4" y2="912.6" stroke="#000" stroke-width="2.8"/>
<line x1="662.4" y1="895.1" x2="676.4" y2="895.1" stroke="#000" stroke-width="2.7" stroke-linecap="round"/>
<line x1="717.0" y1="867.4" x2="717.0" y2="887.2" stroke="#000" stroke-width="2.8"/>
<line x1="710.0" y1="867.4" x2="724.0" y2="867.4" stroke="#000" stroke-width="2.7" stroke-linecap="round"/>
<line x1="740.9" y1="858.2" x2="740.9" y2="880.4" stroke="#000" stroke-width="2.8"/>
<line x1="733.9" y1="858.2" x2="747.9" y2="858.2" stroke="#000" stroke-width="2.7" stroke-linecap="round"/>
<line x1="764.8" y1="846.9" x2="764.8" y2="875.1" stroke="#000" stroke-width="2.8"/>
<line x1="757.8" y1="846.9" x2="771.8" y2="846.9" stroke="#000" stroke-width="2.7" stroke-linecap="round"/>
<line x1="788.6" y1="866.8" x2="788.6" y2="887.2" stroke="#000" stroke-width="2.8"/>
<line x1="781.6" y1="866.8" x2="795.6" y2="866.8" stroke="#000" stroke-width="2.7" stroke-linecap="round"/>
<line x1="788.6" y1="900.2" x2="788.6" y2="933.4" stroke="#000" stroke-width="2.8"/>
<line x1="781.6" y1="933.4" x2="795.6" y2="933.4" stroke="#000" stroke-width="2.7" stroke-linecap="round"/>
<line x1="812.5" y1="880.5" x2="812.5" y2="901.8" stroke="#000" stroke-width="2.8"/>
<line x1="805.5" y1="880.5" x2="819.5" y2="880.5" stroke="#000" stroke-width="2.7" stroke-linecap="round"/>
<line x1="812.5" y1="914.8" x2="812.5" y2="942.0" stroke="#000" stroke-width="2.8"/>
<line x1="805.5" y1="942.0" x2="819.5" y2="942.0" stroke="#000" stroke-width="2.7" stroke-linecap="round"/>
<line x1="836.3" y1="886.2" x2="836.3" y2="908.9" stroke="#000" stroke-width="2.8"/>
<line x1="829.3" y1="886.2" x2="843.3" y2="886.2" stroke="#000" stroke-width="2.7" stroke-linecap="round"/>
<line x1="836.3" y1="921.9" x2="836.3" y2="952.3" stroke="#000" stroke-width="2.8"/>
<line x1="829.3" y1="952.3" x2="843.3" y2="952.3" stroke="#000" stroke-width="2.7" stroke-linecap="round"/>
<line x1="884.0" y1="925.2" x2="884.0" y2="949.5" stroke="#000" stroke-width="2.8"/>
<line x1="877.0" y1="925.2" x2="891.0" y2="925.2" stroke="#000" stroke-width="2.7" stroke-linecap="round"/>
<line x1="884.0" y1="962.5" x2="884.0" y2="987.2" stroke="#000" stroke-width="2.8"/>
<line x1="877.0" y1="987.2" x2="891.0" y2="987.2" stroke="#000" stroke-width="2.7" stroke-linecap="round"/>
<line x1="907.9" y1="947.2" x2="907.9" y2="973.5" stroke="#000" stroke-width="2.8"/>
<line x1="900.9" y1="947.2" x2="914.9" y2="947.2" stroke="#000" stroke-width="2.7" stroke-linecap="round"/>
<line x1="931.7" y1="966.2" x2="931.7" y2="994.0" stroke="#000" stroke-width="2.8"/>
<line x1="924.7" y1="966.2" x2="938.7" y2="966.2" stroke="#000" stroke-width="2.7" stroke-linecap="round"/>
<line x1="955.5" y1="996.4" x2="955.5" y2="1012.5" stroke="#000" stroke-width="2.8"/>
<line x1="948.5" y1="996.4" x2="962.5" y2="996.4" stroke="#000" stroke-width="2.7" stroke-linecap="round"/>
<polyline points="645.5,1052.7 669.4,919.1 717.0,893.8 740.9,886.9 764.8,881.6 788.6,893.8 812.5,908.3 836.3,915.4 884.0,956.0 907.9,980.0 931.7,1000.5 955.5,1019.0 1003.2,1041.5" fill="none" stroke="#000" stroke-width="4" stroke-linejoin="round" stroke-linecap="butt"/>
<rect x="638.4" y="1045.6" width="14.2" height="14.2" fill="#000"/>
<rect x="662.2" y="912.0" width="14.2" height="14.2" fill="#000"/>
<rect x="709.9" y="886.6" width="14.2" height="14.2" fill="#000"/>
<rect x="733.8" y="879.8" width="14.2" height="14.2" fill="#000"/>
<rect x="757.6" y="874.5" width="14.2" height="14.2" fill="#000"/>
<rect x="781.5" y="886.6" width="14.2" height="14.2" fill="#000"/>
<rect x="805.4" y="901.2" width="14.2" height="14.2" fill="#000"/>
<rect x="829.2" y="908.3" width="14.2" height="14.2" fill="#000"/>
<rect x="876.9" y="948.9" width="14.2" height="14.2" fill="#000"/>
<rect x="900.8" y="972.9" width="14.2" height="14.2" fill="#000"/>
<rect x="924.6" y="993.4" width="14.2" height="14.2" fill="#000"/>
<rect x="948.4" y="1011.9" width="14.2" height="14.2" fill="#000"/>
<rect x="996.1" y="1034.4" width="14.2" height="14.2" fill="#000"/>
<path d="M718.35,990.50L718.35,987.20M718.35,990.50L721.49,989.48M718.35,990.50L720.29,993.17M718.35,990.50L716.41,993.17M718.35,990.50L715.21,989.48" stroke="#000" stroke-width="1.45" stroke-linecap="butt" fill="none"/>
<path d="M742.20,990.50L742.20,987.20M742.20,990.50L745.34,989.48M742.20,990.50L744.14,993.17M742.20,990.50L740.26,993.17M742.20,990.50L739.06,989.48" stroke="#000" stroke-width="1.45" stroke-linecap="butt" fill="none"/>
<path d="M766.05,990.50L766.05,987.20M766.05,990.50L769.19,989.48M766.05,990.50L767.99,993.17M766.05,990.50L764.11,993.17M766.05,990.50L762.91,989.48" stroke="#000" stroke-width="1.45" stroke-linecap="butt" fill="none"/>
<path d="M789.90,996.30L789.90,993.00M789.90,996.30L793.04,995.28M789.90,996.30L791.84,998.97M789.90,996.30L787.96,998.97M789.90,996.30L786.76,995.28" stroke="#000" stroke-width="1.45" stroke-linecap="butt" fill="none"/>
<path d="M813.75,1010.70L813.75,1007.40M813.75,1010.70L816.89,1009.68M813.75,1010.70L815.69,1013.37M813.75,1010.70L811.81,1013.37M813.75,1010.70L810.61,1009.68" stroke="#000" stroke-width="1.45" stroke-linecap="butt" fill="none"/>
<path d="M837.60,1014.20L837.60,1010.90M837.60,1014.20L840.74,1013.18M837.60,1014.20L839.54,1016.87M837.60,1014.20L835.66,1016.87M837.60,1014.20L834.46,1013.18" stroke="#000" stroke-width="1.45" stroke-linecap="butt" fill="none"/>
<path d="M885.30,1040.90L885.30,1037.60M885.30,1040.90L888.44,1039.88M885.30,1040.90L887.24,1043.57M885.30,1040.90L883.36,1043.57M885.30,1040.90L882.16,1039.88" stroke="#000" stroke-width="1.45" stroke-linecap="butt" fill="none"/>
<line x1="841.5" y1="824.0" x2="869.0" y2="824.0" stroke="#000" stroke-width="3.8" stroke-linecap="round"/>
<rect x="847.9" y="816.9" width="14.2" height="14.2" fill="#000"/>
<text x="883.0" y="831.0" font-size="19.4">WT</text>
<line x1="842.0" y1="849.6" x2="848.9" y2="849.6" stroke="#000" stroke-width="3.8" stroke-linecap="round"/>
<line x1="852.9" y1="849.6" x2="857.9" y2="849.6" stroke="#000" stroke-width="3.8" stroke-linecap="round"/>
<line x1="863.9" y1="849.6" x2="867.2" y2="849.6" stroke="#000" stroke-width="3.8" stroke-linecap="round"/>
<rect x="849.6" y="842.8" width="13.6" height="13.6" fill="none" stroke="#000" stroke-width="2.4" stroke-linejoin="round"/>
<text x="883.0" y="856.6" font-size="19.4"><tspan font-style="italic">ΔsbiΔspa</tspan></text>
<line x1="842.0" y1="874.5" x2="869.0" y2="874.5" stroke="#000" stroke-width="3.8" stroke-linecap="round"/>
<rect x="848.8" y="867.8" width="13.4" height="13.4" fill="none" stroke="#000" stroke-width="2.6"/>
<rect x="848.8" y="867.8" width="13.4" height="7.2" fill="#000"/>
<text x="883.0" y="881.5" font-size="19.4"><tspan font-style="italic">ΔsbiΔspa</tspan>/p<tspan font-style="italic">sbi</tspan></text>
<text x="222.5" y="1190.5" font-size="46" text-anchor="start" font-weight="bold" >G</text>
<text transform="translate(297.8,1302.2) rotate(-90)" x="0" y="0" font-size="23" text-anchor="middle">Area of Dermonecrosis (mm<tspan font-size="15.6" dy="-8.3">2</tspan><tspan dy="8.3">)</tspan></text>
<line x1="359.6" y1="1184.9" x2="359.6" y2="1426.7" stroke="#000" stroke-width="4"/>
<line x1="357.6" y1="1424.7" x2="716.5" y2="1424.7" stroke="#000" stroke-width="4"/>
<line x1="352.6" y1="1424.7" x2="359.6" y2="1424.7" stroke="#000" stroke-width="4" stroke-linecap="round"/>
<text x="350.6" y="1431.7" font-size="20" text-anchor="end" >0</text>
<line x1="352.6" y1="1377.1" x2="359.6" y2="1377.1" stroke="#000" stroke-width="4" stroke-linecap="round"/>
<text x="350.6" y="1384.1" font-size="20" text-anchor="end" >50</text>
<line x1="352.6" y1="1329.5" x2="359.6" y2="1329.5" stroke="#000" stroke-width="4" stroke-linecap="round"/>
<text x="350.6" y="1336.5" font-size="20" text-anchor="end" >100</text>
<line x1="352.6" y1="1281.9" x2="359.6" y2="1281.9" stroke="#000" stroke-width="4" stroke-linecap="round"/>
<text x="350.6" y="1288.9" font-size="20" text-anchor="end" >150</text>
<line x1="352.6" y1="1234.3" x2="359.6" y2="1234.3" stroke="#000" stroke-width="4" stroke-linecap="round"/>
<text x="350.6" y="1241.3" font-size="20" text-anchor="end" >200</text>
<line x1="352.6" y1="1186.7" x2="359.6" y2="1186.7" stroke="#000" stroke-width="4" stroke-linecap="round"/>
<text x="350.6" y="1193.7" font-size="20" text-anchor="end" >250</text>
<line x1="359.2" y1="1424.7" x2="359.2" y2="1431.7" stroke="#000" stroke-width="4" stroke-linecap="round"/>
<text x="359.2" y="1452.2" font-size="20" text-anchor="middle" >0</text>
<line x1="478.2" y1="1424.7" x2="478.2" y2="1431.7" stroke="#000" stroke-width="4" stroke-linecap="round"/>
<text x="478.2" y="1452.2" font-size="20" text-anchor="middle" >5</text>
<line x1="597.2" y1="1424.7" x2="597.2" y2="1431.7" stroke="#000" stroke-width="4" stroke-linecap="round"/>
<text x="597.2" y="1452.2" font-size="20" text-anchor="middle" >10</text>
<line x1="716.2" y1="1424.7" x2="716.2" y2="1431.7" stroke="#000" stroke-width="4" stroke-linecap="round"/>
<text x="716.2" y="1452.2" font-size="20" text-anchor="middle" >15</text>
<text x="538.3" y="1490.5" font-size="23" text-anchor="middle" >Time (days)</text>
<line x1="383.0" y1="1197.3" x2="383.0" y2="1207.5" stroke="#ff0000" stroke-width="2.8"/>
<line x1="376.0" y1="1197.3" x2="390.0" y2="1197.3" stroke="#ff0000" stroke-width="2.7" stroke-linecap="round"/>
<line x1="383.0" y1="1221.5" x2="383.0" y2="1232.0" stroke="#ff0000" stroke-width="2.8"/>
<line x1="376.0" y1="1232.0" x2="390.0" y2="1232.0" stroke="#ff0000" stroke-width="2.7" stroke-linecap="round"/>
<line x1="454.4" y1="1239.7" x2="454.4" y2="1248.9" stroke="#ff0000" stroke-width="2.8"/>
<line x1="447.4" y1="1239.7" x2="461.4" y2="1239.7" stroke="#ff0000" stroke-width="2.7" stroke-linecap="round"/>
<line x1="454.4" y1="1262.9" x2="454.4" y2="1272.0" stroke="#ff0000" stroke-width="2.8"/>
<line x1="447.4" y1="1272.0" x2="461.4" y2="1272.0" stroke="#ff0000" stroke-width="2.7" stroke-linecap="round"/>
<line x1="478.2" y1="1258.0" x2="478.2" y2="1272.0" stroke="#ff0000" stroke-width="2.8"/>
<line x1="471.2" y1="1258.0" x2="485.2" y2="1258.0" stroke="#ff0000" stroke-width="2.7" stroke-linecap="round"/>
<line x1="478.2" y1="1286.0" x2="478.2" y2="1300.9" stroke="#ff0000" stroke-width="2.8"/>
<line x1="471.2" y1="1300.9" x2="485.2" y2="1300.9" stroke="#ff0000" stroke-width="2.7" stroke-linecap="round"/>
<line x1="502.0" y1="1272.0" x2="502.0" y2="1285.7" stroke="#ff0000" stroke-width="2.8"/>
<line x1="495.0" y1="1272.0" x2="509.0" y2="1272.0" stroke="#ff0000" stroke-width="2.7" stroke-linecap="round"/>
<line x1="502.0" y1="1299.7" x2="502.0" y2="1314.1" stroke="#ff0000" stroke-width="2.8"/>
<line x1="495.0" y1="1314.1" x2="509.0" y2="1314.1" stroke="#ff0000" stroke-width="2.7" stroke-linecap="round"/>
<line x1="549.6" y1="1300.0" x2="549.6" y2="1306.0" stroke="#ff0000" stroke-width="2.8"/>
<line x1="542.6" y1="1300.0" x2="556.6" y2="1300.0" stroke="#ff0000" stroke-width="2.7" stroke-linecap="round"/>
<line x1="549.6" y1="1320.0" x2="549.6" y2="1328.0" stroke="#ff0000" stroke-width="2.8"/>
<line x1="542.6" y1="1328.0" x2="556.6" y2="1328.0" stroke="#ff0000" stroke-width="2.7" stroke-linecap="round"/>
<line x1="621.0" y1="1310.6" x2="621.0" y2="1318.6" stroke="#ff0000" stroke-width="2.8"/>
<line x1="614.0" y1="1310.6" x2="628.0" y2="1310.6" stroke="#ff0000" stroke-width="2.7" stroke-linecap="round"/>
<line x1="621.0" y1="1332.6" x2="621.0" y2="1342.0" stroke="#ff0000" stroke-width="2.8"/>
<line x1="614.0" y1="1342.0" x2="628.0" y2="1342.0" stroke="#ff0000" stroke-width="2.7" stroke-linecap="round"/>
<line x1="644.8" y1="1328.8" x2="644.8" y2="1334.7" stroke="#ff0000" stroke-width="2.8"/>
<line x1="637.8" y1="1328.8" x2="651.8" y2="1328.8" stroke="#ff0000" stroke-width="2.7" stroke-linecap="round"/>
<line x1="644.8" y1="1348.7" x2="644.8" y2="1356.0" stroke="#ff0000" stroke-width="2.8"/>
<line x1="637.8" y1="1356.0" x2="651.8" y2="1356.0" stroke="#ff0000" stroke-width="2.7" stroke-linecap="round"/>
<polyline points="359.2,1424.7 383.0,1214.5 454.4,1255.9 478.2,1279.0 502.0,1292.7 525.8,1307.0 549.6,1313.0 621.0,1325.6 644.8,1341.7" fill="none" stroke="#ff0000" stroke-width="3.8" stroke-linejoin="round" stroke-linecap="butt" stroke-dasharray="3.8 6.6"/>
<circle cx="359.2" cy="1424.7" r="7.2" fill="none" stroke="#ff0000" stroke-width="2.6"/>
<circle cx="383.0" cy="1214.5" r="7.2" fill="none" stroke="#ff0000" stroke-width="2.6"/>
<circle cx="454.4" cy="1255.9" r="7.2" fill="none" stroke="#ff0000" stroke-width="2.6"/>
<circle cx="478.2" cy="1279.0" r="7.2" fill="none" stroke="#ff0000" stroke-width="2.6"/>
<circle cx="502.0" cy="1292.7" r="7.2" fill="none" stroke="#ff0000" stroke-width="2.6"/>
<circle cx="525.8" cy="1307.0" r="7.2" fill="none" stroke="#ff0000" stroke-width="2.6"/>
<circle cx="549.6" cy="1313.0" r="7.2" fill="none" stroke="#ff0000" stroke-width="2.6"/>
<circle cx="621.0" cy="1325.6" r="7.2" fill="none" stroke="#ff0000" stroke-width="2.6"/>
<circle cx="644.8" cy="1341.7" r="7.2" fill="none" stroke="#ff0000" stroke-width="2.6"/>
<line x1="383.0" y1="1212.0" x2="383.0" y2="1221.2" stroke="#ff0000" stroke-width="2.8"/>
<line x1="376.0" y1="1212.0" x2="390.0" y2="1212.0" stroke="#ff0000" stroke-width="2.7" stroke-linecap="round"/>
<line x1="383.0" y1="1235.2" x2="383.0" y2="1244.2" stroke="#ff0000" stroke-width="2.8"/>
<line x1="376.0" y1="1244.2" x2="390.0" y2="1244.2" stroke="#ff0000" stroke-width="2.7" stroke-linecap="round"/>
<line x1="454.4" y1="1252.0" x2="454.4" y2="1260.3" stroke="#ff0000" stroke-width="2.8"/>
<line x1="447.4" y1="1252.0" x2="461.4" y2="1252.0" stroke="#ff0000" stroke-width="2.7" stroke-linecap="round"/>
<line x1="454.4" y1="1274.3" x2="454.4" y2="1279.8" stroke="#ff0000" stroke-width="2.8"/>
<line x1="447.4" y1="1279.8" x2="461.4" y2="1279.8" stroke="#ff0000" stroke-width="2.7" stroke-linecap="round"/>
<line x1="478.2" y1="1250.0" x2="478.2" y2="1260.7" stroke="#ff0000" stroke-width="2.8"/>
<line x1="471.2" y1="1250.0" x2="485.2" y2="1250.0" stroke="#ff0000" stroke-width="2.7" stroke-linecap="round"/>
<line x1="478.2" y1="1274.7" x2="478.2" y2="1286.0" stroke="#ff0000" stroke-width="2.8"/>
<line x1="471.2" y1="1286.0" x2="485.2" y2="1286.0" stroke="#ff0000" stroke-width="2.7" stroke-linecap="round"/>
<line x1="502.0" y1="1262.0" x2="502.0" y2="1271.4" stroke="#ff0000" stroke-width="2.8"/>
<line x1="495.0" y1="1262.0" x2="509.0" y2="1262.0" stroke="#ff0000" stroke-width="2.7" stroke-linecap="round"/>
<line x1="502.0" y1="1285.4" x2="502.0" y2="1296.0" stroke="#ff0000" stroke-width="2.8"/>
<line x1="495.0" y1="1296.0" x2="509.0" y2="1296.0" stroke="#ff0000" stroke-width="2.7" stroke-linecap="round"/>
<line x1="525.8" y1="1288.2" x2="525.8" y2="1300.7" stroke="#ff0000" stroke-width="2.8"/>
<line x1="518.8" y1="1288.2" x2="532.8" y2="1288.2" stroke="#ff0000" stroke-width="2.7" stroke-linecap="round"/>
<line x1="525.8" y1="1314.7" x2="525.8" y2="1326.2" stroke="#ff0000" stroke-width="2.8"/>
<line x1="518.8" y1="1326.2" x2="532.8" y2="1326.2" stroke="#ff0000" stroke-width="2.7" stroke-linecap="round"/>
<line x1="549.6" y1="1297.0" x2="549.6" y2="1308.5" stroke="#ff0000" stroke-width="2.8"/>
<line x1="542.6" y1="1297.0" x2="556.6" y2="1297.0" stroke="#ff0000" stroke-width="2.7" stroke-linecap="round"/>
<line x1="549.6" y1="1322.5" x2="549.6" y2="1334.2" stroke="#ff0000" stroke-width="2.8"/>
<line x1="542.6" y1="1334.2" x2="556.6" y2="1334.2" stroke="#ff0000" stroke-width="2.7" stroke-linecap="round"/>
<line x1="621.0" y1="1314.0" x2="621.0" y2="1324.0" stroke="#ff0000" stroke-width="2.8"/>
<line x1="614.0" y1="1314.0" x2="628.0" y2="1314.0" stroke="#ff0000" stroke-width="2.7" stroke-linecap="round"/>
<line x1="621.0" y1="1338.0" x2="621.0" y2="1347.7" stroke="#ff0000" stroke-width="2.8"/>
<line x1="614.0" y1="1347.7" x2="628.0" y2="1347.7" stroke="#ff0000" stroke-width="2.7" stroke-linecap="round"/>
<line x1="644.8" y1="1333.0" x2="644.8" y2="1342.9" stroke="#ff0000" stroke-width="2.8"/>
<line x1="637.8" y1="1333.0" x2="651.8" y2="1333.0" stroke="#ff0000" stroke-width="2.7" stroke-linecap="round"/>
<line x1="644.8" y1="1356.9" x2="644.8" y2="1364.3" stroke="#ff0000" stroke-width="2.8"/>
<line x1="637.8" y1="1364.3" x2="651.8" y2="1364.3" stroke="#ff0000" stroke-width="2.7" stroke-linecap="round"/>
<polyline points="359.2,1424.7 383.0,1228.2 454.4,1267.3 478.2,1267.7 502.0,1278.4 525.8,1307.7 549.6,1315.5 621.0,1331.0 644.8,1349.9" fill="none" stroke="#ff0000" stroke-width="4" stroke-linejoin="round" stroke-linecap="butt"/>
<circle cx="359.2" cy="1424.7" r="8.5" fill="#ff0000"/>
<circle cx="383.0" cy="1228.2" r="8.5" fill="#ff0000"/>
<circle cx="454.4" cy="1267.3" r="8.5" fill="#ff0000"/>
<circle cx="478.2" cy="1267.7" r="8.5" fill="#ff0000"/>
<circle cx="502.0" cy="1278.4" r="8.5" fill="#ff0000"/>
<circle cx="525.8" cy="1307.7" r="8.5" fill="#ff0000"/>
<circle cx="549.6" cy="1315.5" r="8.5" fill="#ff0000"/>
<circle cx="621.0" cy="1331.0" r="8.5" fill="#ff0000"/>
<circle cx="644.8" cy="1349.9" r="8.5" fill="#ff0000"/>
<line x1="383.0" y1="1347.4" x2="383.0" y2="1350.6" stroke="#000" stroke-width="2.8"/>
<line x1="376.0" y1="1347.4" x2="390.0" y2="1347.4" stroke="#000" stroke-width="2.7" stroke-linecap="round"/>
<line x1="383.0" y1="1363.6" x2="383.0" y2="1367.5" stroke="#000" stroke-width="2.8"/>
<line x1="376.0" y1="1367.5" x2="390.0" y2="1367.5" stroke="#000" stroke-width="2.7" stroke-linecap="round"/>
<line x1="454.4" y1="1370.0" x2="454.4" y2="1371.2" stroke="#000" stroke-width="2.8"/>
<line x1="447.4" y1="1370.0" x2="461.4" y2="1370.0" stroke="#000" stroke-width="2.7" stroke-linecap="round"/>
<line x1="454.4" y1="1384.2" x2="454.4" y2="1386.0" stroke="#000" stroke-width="2.8"/>
<line x1="447.4" y1="1386.0" x2="461.4" y2="1386.0" stroke="#000" stroke-width="2.7" stroke-linecap="round"/>
<line x1="478.2" y1="1368.0" x2="478.2" y2="1369.2" stroke="#000" stroke-width="2.8"/>
<line x1="471.2" y1="1368.0" x2="485.2" y2="1368.0" stroke="#000" stroke-width="2.7" stroke-linecap="round"/>
<line x1="478.2" y1="1382.2" x2="478.2" y2="1384.0" stroke="#000" stroke-width="2.8"/>
<line x1="471.2" y1="1384.0" x2="485.2" y2="1384.0" stroke="#000" stroke-width="2.7" stroke-linecap="round"/>
<line x1="502.0" y1="1373.0" x2="502.0" y2="1374.7" stroke="#000" stroke-width="2.8"/>
<line x1="495.0" y1="1373.0" x2="509.0" y2="1373.0" stroke="#000" stroke-width="2.7" stroke-linecap="round"/>
<line x1="502.0" y1="1387.7" x2="502.0" y2="1389.0" stroke="#000" stroke-width="2.8"/>
<line x1="495.0" y1="1389.0" x2="509.0" y2="1389.0" stroke="#000" stroke-width="2.7" stroke-linecap="round"/>
<line x1="525.8" y1="1378.0" x2="525.8" y2="1379.9" stroke="#000" stroke-width="2.8"/>
<line x1="518.8" y1="1378.0" x2="532.8" y2="1378.0" stroke="#000" stroke-width="2.7" stroke-linecap="round"/>
<line x1="525.8" y1="1392.9" x2="525.8" y2="1394.0" stroke="#000" stroke-width="2.8"/>
<line x1="518.8" y1="1394.0" x2="532.8" y2="1394.0" stroke="#000" stroke-width="2.7" stroke-linecap="round"/>
<line x1="549.6" y1="1381.0" x2="549.6" y2="1382.9" stroke="#000" stroke-width="2.8"/>
<line x1="542.6" y1="1381.0" x2="556.6" y2="1381.0" stroke="#000" stroke-width="2.7" stroke-linecap="round"/>
<line x1="549.6" y1="1395.9" x2="549.6" y2="1398.0" stroke="#000" stroke-width="2.8"/>
<line x1="542.6" y1="1398.0" x2="556.6" y2="1398.0" stroke="#000" stroke-width="2.7" stroke-linecap="round"/>
<polyline points="359.2,1424.7 383.0,1357.1 454.4,1377.7 478.2,1375.7 502.0,1381.2 525.8,1386.4 549.6,1389.4 621.0,1409.4 644.8,1416.9" fill="none" stroke="#000" stroke-width="3.8" stroke-linejoin="round" stroke-linecap="butt" stroke-dasharray="3.8 6.6"/>
<rect x="352.4" y="1417.9" width="13.6" height="13.6" fill="none" stroke="#000" stroke-width="2.4" stroke-linejoin="round"/>
<rect x="376.2" y="1350.3" width="13.6" height="13.6" fill="none" stroke="#000" stroke-width="2.4" stroke-linejoin="round"/>
<rect x="447.6" y="1370.9" width="13.6" height="13.6" fill="none" stroke="#000" stroke-width="2.4" stroke-linejoin="round"/>
<rect x="471.4" y="1368.9" width="13.6" height="13.6" fill="none" stroke="#000" stroke-width="2.4" stroke-linejoin="round"/>
<rect x="495.2" y="1374.4" width="13.6" height="13.6" fill="none" stroke="#000" stroke-width="2.4" stroke-linejoin="round"/>
<rect x="519.0" y="1379.6" width="13.6" height="13.6" fill="none" stroke="#000" stroke-width="2.4" stroke-linejoin="round"/>
<rect x="542.8" y="1382.6" width="13.6" height="13.6" fill="none" stroke="#000" stroke-width="2.4" stroke-linejoin="round"/>
<rect x="614.2" y="1402.6" width="13.6" height="13.6" fill="none" stroke="#000" stroke-width="2.4" stroke-linejoin="round"/>
<rect x="638.0" y="1410.1" width="13.6" height="13.6" fill="none" stroke="#000" stroke-width="2.4" stroke-linejoin="round"/>
<line x1="383.0" y1="1280.0" x2="383.0" y2="1282.2" stroke="#000" stroke-width="2.8"/>
<line x1="376.0" y1="1280.0" x2="390.0" y2="1280.0" stroke="#000" stroke-width="2.7" stroke-linecap="round"/>
<line x1="383.0" y1="1295.2" x2="383.0" y2="1297.0" stroke="#000" stroke-width="2.8"/>
<line x1="376.0" y1="1297.0" x2="390.0" y2="1297.0" stroke="#000" stroke-width="2.7" stroke-linecap="round"/>
<line x1="454.4" y1="1331.0" x2="454.4" y2="1333.1" stroke="#000" stroke-width="2.8"/>
<line x1="447.4" y1="1331.0" x2="461.4" y2="1331.0" stroke="#000" stroke-width="2.7" stroke-linecap="round"/>
<line x1="454.4" y1="1346.1" x2="454.4" y2="1348.0" stroke="#000" stroke-width="2.8"/>
<line x1="447.4" y1="1348.0" x2="461.4" y2="1348.0" stroke="#000" stroke-width="2.7" stroke-linecap="round"/>
<line x1="478.2" y1="1339.0" x2="478.2" y2="1340.9" stroke="#000" stroke-width="2.8"/>
<line x1="471.2" y1="1339.0" x2="485.2" y2="1339.0" stroke="#000" stroke-width="2.7" stroke-linecap="round"/>
<line x1="478.2" y1="1353.9" x2="478.2" y2="1356.0" stroke="#000" stroke-width="2.8"/>
<line x1="471.2" y1="1356.0" x2="485.2" y2="1356.0" stroke="#000" stroke-width="2.7" stroke-linecap="round"/>
<line x1="502.0" y1="1339.0" x2="502.0" y2="1341.5" stroke="#000" stroke-width="2.8"/>
<line x1="495.0" y1="1339.0" x2="509.0" y2="1339.0" stroke="#000" stroke-width="2.7" stroke-linecap="round"/>
<line x1="502.0" y1="1354.5" x2="502.0" y2="1357.0" stroke="#000" stroke-width="2.8"/>
<line x1="495.0" y1="1357.0" x2="509.0" y2="1357.0" stroke="#000" stroke-width="2.7" stroke-linecap="round"/>
<line x1="525.8" y1="1345.0" x2="525.8" y2="1348.7" stroke="#000" stroke-width="2.8"/>
<line x1="518.8" y1="1345.0" x2="532.8" y2="1345.0" stroke="#000" stroke-width="2.7" stroke-linecap="round"/>
<line x1="525.8" y1="1361.7" x2="525.8" y2="1365.0" stroke="#000" stroke-width="2.8"/>
<line x1="518.8" y1="1365.0" x2="532.8" y2="1365.0" stroke="#000" stroke-width="2.7" stroke-linecap="round"/>
<line x1="549.6" y1="1360.0" x2="549.6" y2="1363.1" stroke="#000" stroke-width="2.8"/>
<line x1="542.6" y1="1360.0" x2="556.6" y2="1360.0" stroke="#000" stroke-width="2.7" stroke-linecap="round"/>
<line x1="549.6" y1="1376.1" x2="549.6" y2="1379.0" stroke="#000" stroke-width="2.8"/>
<line x1="542.6" y1="1379.0" x2="556.6" y2="1379.0" stroke="#000" stroke-width="2.7" stroke-linecap="round"/>
<line x1="621.0" y1="1392.0" x2="621.0" y2="1393.2" stroke="#000" stroke-width="2.8"/>
<line x1="614.0" y1="1392.0" x2="628.0" y2="1392.0" stroke="#000" stroke-width="2.7" stroke-linecap="round"/>
<polyline points="359.2,1424.7 383.0,1288.8 454.4,1339.6 478.2,1347.4 502.0,1348.0 525.8,1355.2 549.6,1369.6 621.0,1399.7 644.8,1411.5" fill="none" stroke="#000" stroke-width="4" stroke-linejoin="round" stroke-linecap="butt"/>
<rect x="352.1" y="1417.6" width="14.2" height="14.2" fill="#000"/>
<rect x="375.9" y="1281.7" width="14.2" height="14.2" fill="#000"/>
<rect x="447.3" y="1332.5" width="14.2" height="14.2" fill="#000"/>
<rect x="471.1" y="1340.3" width="14.2" height="14.2" fill="#000"/>
<rect x="494.9" y="1340.9" width="14.2" height="14.2" fill="#000"/>
<rect x="518.7" y="1348.1" width="14.2" height="14.2" fill="#000"/>
<rect x="542.5" y="1362.5" width="14.2" height="14.2" fill="#000"/>
<rect x="613.9" y="1392.6" width="14.2" height="14.2" fill="#000"/>
<rect x="637.7" y="1404.4" width="14.2" height="14.2" fill="#000"/>
<text x="384.5" y="1275.6" font-size="20" text-anchor="middle" font-weight="bold" >#</text>
<text x="455.9" y="1323.5" font-size="20" text-anchor="middle" font-weight="bold" >#</text>
<text x="479.7" y="1334.8" font-size="20" text-anchor="middle" font-weight="bold" >#</text>
<text x="503.5" y="1335.2" font-size="20" text-anchor="middle" font-weight="bold" >#</text>
<text x="527.3" y="1345.0" font-size="20" text-anchor="middle" font-weight="bold" >#</text>
<text x="551.1" y="1360.5" font-size="20" text-anchor="middle" font-weight="bold" >#</text>
<text x="622.5" y="1388.5" font-size="20" text-anchor="middle" font-weight="bold" >#</text>
<text x="646.3" y="1399.2" font-size="20" text-anchor="middle" font-weight="bold" >#</text>
<path d="M384.30,1387.00L384.30,1383.70M384.30,1387.00L387.44,1385.98M384.30,1387.00L386.24,1389.67M384.30,1387.00L382.36,1389.67M384.30,1387.00L381.16,1385.98" stroke="#000" stroke-width="1.45" stroke-linecap="butt" fill="none"/>
<path d="M455.70,1402.00L455.70,1398.70M455.70,1402.00L458.84,1400.98M455.70,1402.00L457.64,1404.67M455.70,1402.00L453.76,1404.67M455.70,1402.00L452.56,1400.98" stroke="#000" stroke-width="1.45" stroke-linecap="butt" fill="none"/>
<path d="M479.50,1402.00L479.50,1398.70M479.50,1402.00L482.64,1400.98M479.50,1402.00L481.44,1404.67M479.50,1402.00L477.56,1404.67M479.50,1402.00L476.36,1400.98" stroke="#000" stroke-width="1.45" stroke-linecap="butt" fill="none"/>
<path d="M503.30,1407.00L503.30,1403.70M503.30,1407.00L506.44,1405.98M503.30,1407.00L505.24,1409.67M503.30,1407.00L501.36,1409.67M503.30,1407.00L500.16,1405.98" stroke="#000" stroke-width="1.45" stroke-linecap="butt" fill="none"/>
<path d="M527.10,1408.00L527.10,1404.70M527.10,1408.00L530.24,1406.98M527.10,1408.00L529.04,1410.67M527.10,1408.00L525.16,1410.67M527.10,1408.00L523.96,1406.98" stroke="#000" stroke-width="1.45" stroke-linecap="butt" fill="none"/>
<line x1="590.4" y1="1204.7" x2="617.9" y2="1204.7" stroke="#ff0000" stroke-width="3.8" stroke-linecap="round"/>
<circle cx="604.0" cy="1204.7" r="8.5" fill="#ff0000"/>
<text x="632.6" y="1211.7" font-size="19.4">μMT WT</text>
<line x1="590.4" y1="1230.3" x2="596.0" y2="1230.3" stroke="#ff0000" stroke-width="3.8" stroke-linecap="round"/>
<line x1="600.5" y1="1230.3" x2="605.5" y2="1230.3" stroke="#ff0000" stroke-width="3.8" stroke-linecap="round"/>
<line x1="612.0" y1="1230.3" x2="617.9" y2="1230.3" stroke="#ff0000" stroke-width="3.8" stroke-linecap="round"/>
<circle cx="604.0" cy="1230.3" r="7.2" fill="none" stroke="#ff0000" stroke-width="2.6"/>
<text x="632.6" y="1237.3" font-size="19.4">μMT <tspan font-style="italic">ΔsbiΔspa</tspan></text>
<line x1="591.0" y1="1257.0" x2="617.4" y2="1257.0" stroke="#000" stroke-width="3.8" stroke-linecap="round"/>
<rect x="597.1" y="1249.9" width="14.2" height="14.2" fill="#000"/>
<text x="632.6" y="1264.0" font-size="19.4">BALB/c WT</text>
<line x1="591.0" y1="1283.9" x2="596.7" y2="1283.9" stroke="#000" stroke-width="3.8" stroke-linecap="round"/>
<line x1="600.7" y1="1283.9" x2="605.7" y2="1283.9" stroke="#000" stroke-width="3.8" stroke-linecap="round"/>
<line x1="611.7" y1="1283.9" x2="617.4" y2="1283.9" stroke="#000" stroke-width="3.8" stroke-linecap="round"/>
<rect x="597.4" y="1277.1" width="13.6" height="13.6" fill="none" stroke="#000" stroke-width="2.4" stroke-linejoin="round"/>
<text x="632.6" y="1290.9" font-size="19.4">BALB/c <tspan font-style="italic">ΔsbiΔspa</tspan></text>
</svg></body></html>
